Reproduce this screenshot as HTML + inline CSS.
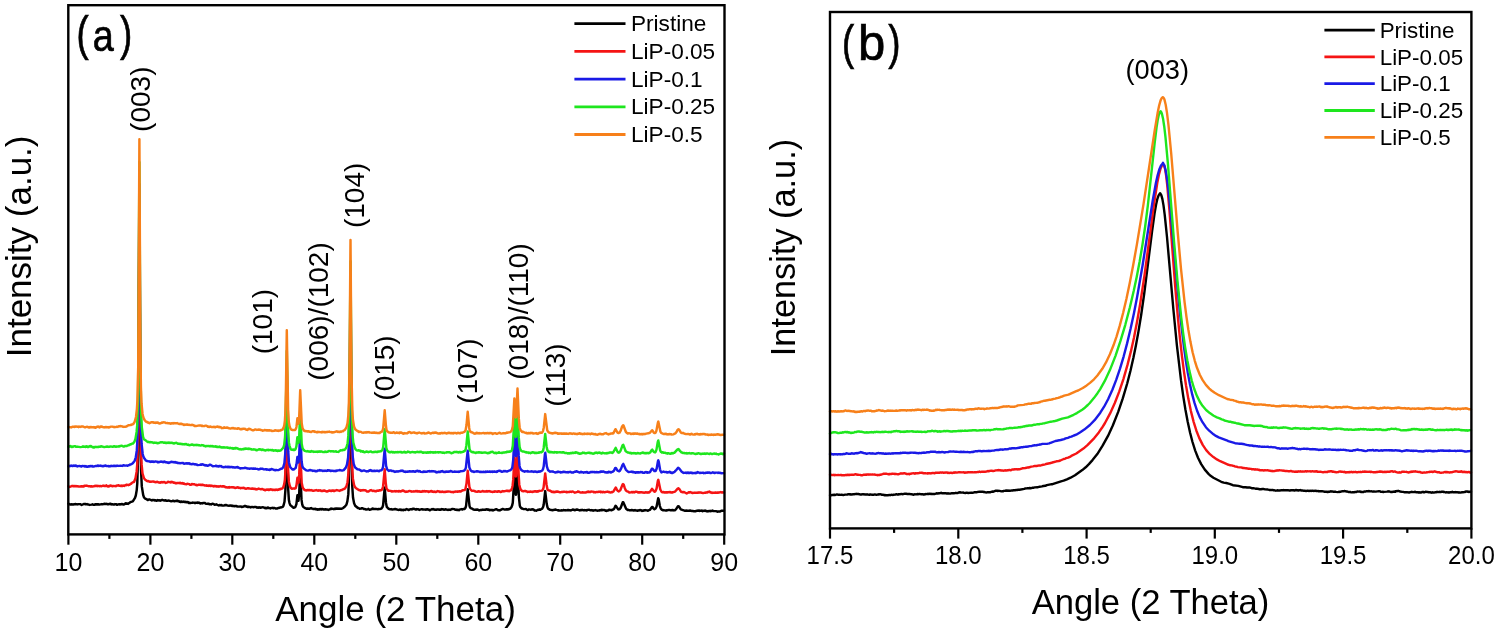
<!DOCTYPE html>
<html><head><meta charset="utf-8"><title>XRD</title>
<style>html,body{margin:0;padding:0;background:#fff;}svg{display:block;filter:blur(0.4px);}</style>
</head><body>
<svg width="1499" height="635" viewBox="0 0 1499 635">
<rect width="1499" height="635" fill="#ffffff"/>
<g fill="none" stroke-width="2.45" stroke-linejoin="round" stroke-linecap="round">
<path stroke="#000000" d="M68.4 503.7L69.9 504.5L72.0 504.3L72.6 504.5L73.0 504.3L73.2 504.5L74.6 504.3L75.1 504.0L77.7 504.4L78.4 504.1L79.6 504.1L80.5 504.3L81.6 505.0L84.1 503.9L85.0 504.2L85.3 503.9L86.3 504.3L87.0 504.1L87.7 504.5L88.6 504.5L89.5 504.9L91.8 504.6L92.4 504.3L93.3 504.8L94.2 504.6L94.7 504.8L95.4 504.3L95.5 504.6L95.8 504.3L96.7 504.5L97.0 504.2L97.3 504.5L98.1 504.2L99.5 504.6L101.5 504.1L102.8 504.2L103.9 503.9L104.5 504.1L104.8 503.8L106.4 504.1L106.9 503.8L107.3 504.2L108.4 504.3L110.3 503.8L111.1 504.0L111.4 504.4L112.1 504.2L113.6 504.5L114.6 504.5L115.0 504.1L116.0 504.2L117.1 504.8L119.1 504.2L120.0 504.6L120.4 504.3L121.4 504.2L121.7 503.9L123.4 504.5L124.4 504.3L125.7 503.3L126.4 503.8L126.8 503.4L128.1 503.9L130.3 502.2L132.8 501.4L135.0 497.9L135.8 495.5L136.7 490.3L137.3 483.1L138.1 453.7L139.4 228.5L140.3 410.8L141.0 469.7L141.8 486.4L143.2 495.0L144.0 497.3L144.8 498.4L146.9 499.3L147.7 500.1L148.7 499.5L149.8 499.5L151.7 500.4L152.1 500.0L152.8 500.2L154.1 499.9L154.8 500.4L155.0 500.2L156.8 500.7L157.8 500.0L158.7 500.5L159.5 500.3L160.4 500.7L162.2 499.8L164.4 500.6L165.5 500.2L166.0 500.7L166.9 500.6L167.1 500.8L167.9 500.8L168.5 500.4L171.2 501.3L172.3 501.1L172.8 500.7L173.1 501.0L173.7 500.8L174.1 501.2L174.8 501.3L175.5 500.9L176.1 501.0L177.1 500.6L178.4 501.3L178.8 501.1L179.4 501.8L180.0 501.6L180.5 502.0L181.0 501.6L181.3 501.9L181.5 501.5L182.4 502.0L183.2 501.6L184.0 502.0L184.8 501.7L185.8 502.2L186.2 502.0L187.1 502.3L187.8 502.0L188.9 503.0L189.4 502.7L190.2 503.1L192.5 502.6L192.8 502.8L192.9 502.6L194.4 502.6L195.0 503.2L196.0 502.7L197.2 502.9L197.7 502.4L199.0 502.9L199.6 502.8L200.4 503.5L201.4 503.2L202.4 503.4L202.8 503.0L204.6 502.9L206.0 503.8L207.1 503.9L208.0 503.6L208.8 503.8L209.3 504.2L210.8 504.2L211.1 504.5L212.3 503.7L213.4 503.9L214.7 504.8L216.3 504.3L218.7 505.5L219.6 505.0L220.6 505.3L221.4 504.9L222.1 505.5L223.8 505.6L225.0 505.0L225.7 505.3L226.4 505.0L227.7 505.6L229.1 505.7L230.3 505.4L231.3 505.8L231.7 505.6L232.1 505.9L232.7 505.7L232.8 506.0L233.7 505.9L234.2 506.2L235.8 505.9L236.2 506.2L236.5 506.0L237.3 506.6L241.0 506.5L241.7 507.0L243.7 506.5L244.2 506.0L245.0 506.3L245.2 506.0L247.7 507.0L248.5 506.7L249.3 507.1L250.2 507.0L250.6 507.4L252.0 506.9L253.7 507.2L254.7 506.9L256.0 506.9L256.9 507.7L257.7 507.4L258.1 507.7L258.3 507.4L258.9 507.5L259.2 507.2L260.1 507.8L260.4 507.5L260.9 507.7L261.4 507.4L262.8 507.3L264.2 507.6L265.2 508.2L265.6 507.7L266.6 508.3L267.7 507.5L268.3 507.9L268.7 507.8L270.3 508.4L271.0 508.0L272.3 508.1L272.8 507.8L273.5 508.2L274.0 507.9L274.7 507.9L275.6 508.5L277.2 508.5L278.1 507.9L278.7 508.0L280.5 507.4L280.6 507.6L282.8 506.8L283.4 505.9L284.5 501.8L285.4 490.1L286.8 411.4L288.1 487.8L288.9 500.1L289.5 503.1L290.3 505.1L293.5 507.8L295.0 507.3L295.5 506.7L296.4 504.2L297.4 495.3L298.1 500.1L298.3 500.7L298.4 500.8L298.5 500.6L299.2 493.2L300.2 469.1L301.5 499.4L302.2 504.3L302.7 506.0L303.6 507.1L304.6 507.9L306.3 508.7L307.4 508.5L309.7 508.8L310.4 508.3L311.2 508.1L311.7 508.6L312.7 508.6L313.2 509.0L313.8 509.1L314.2 508.8L315.2 509.2L315.6 508.8L316.7 509.4L317.4 509.2L318.0 509.7L319.2 509.1L319.7 509.5L320.4 509.0L320.6 509.3L321.1 509.1L321.6 509.4L322.1 509.0L323.8 509.5L325.6 509.3L326.7 509.6L327.0 509.4L328.3 509.9L329.2 509.5L329.6 509.6L331.1 508.5L331.7 508.9L332.6 508.8L333.8 509.2L334.2 508.8L334.9 509.0L336.1 508.5L341.8 508.7L343.3 508.0L344.0 507.1L344.7 506.8L346.4 504.8L347.4 501.1L348.3 494.4L348.8 483.2L349.5 445.6L350.5 324.7L351.5 445.2L352.2 485.5L353.0 497.5L354.1 503.3L355.2 505.7L357.9 508.0L358.5 508.0L359.6 508.7L361.0 508.6L361.8 508.2L362.0 508.4L362.6 508.3L363.8 509.1L364.4 508.9L366.1 509.5L368.0 509.3L368.3 508.9L369.6 509.7L370.8 509.6L372.1 508.7L372.4 508.9L372.9 508.6L373.4 508.9L375.7 508.9L377.9 509.3L378.8 508.9L379.8 509.1L381.3 508.6L382.4 507.3L383.1 505.2L384.7 487.6L386.0 502.9L386.8 506.9L388.5 508.8L390.2 509.2L391.3 509.1L392.3 509.6L395.2 509.0L398.2 509.9L398.8 510.0L399.5 509.6L400.4 509.9L400.9 509.6L402.0 510.2L403.0 509.8L403.5 510.2L404.5 509.8L405.3 509.9L406.5 509.1L407.7 509.4L408.2 509.9L409.0 509.9L410.5 509.2L411.6 509.4L412.0 508.9L412.6 509.2L413.3 508.7L414.0 508.7L414.5 509.1L414.9 509.1L415.4 509.4L416.4 509.4L416.8 509.1L417.9 509.2L419.4 509.9L421.7 509.2L422.5 509.3L422.8 509.6L423.3 509.4L423.7 509.6L425.2 509.5L426.1 509.7L427.2 509.2L429.0 509.7L429.7 510.3L432.1 509.0L432.5 509.4L433.4 509.1L433.6 509.4L433.8 509.3L434.6 509.7L435.0 509.5L435.4 509.8L436.1 509.6L436.6 509.8L437.3 509.4L437.9 509.6L438.1 509.4L438.9 509.4L439.3 509.8L440.4 509.5L440.8 509.8L441.9 509.1L442.8 509.4L443.1 509.2L444.0 509.8L445.9 509.3L447.4 509.9L448.3 509.7L448.8 509.9L449.1 509.6L450.2 509.9L452.4 508.9L454.3 509.1L455.2 509.7L456.5 509.6L457.0 510.0L457.9 509.8L458.9 510.2L459.5 509.7L461.5 509.1L462.5 509.2L462.6 509.5L463.1 509.0L464.4 509.1L465.5 507.8L466.1 505.7L467.7 489.3L469.5 505.9L470.0 507.4L470.7 508.1L472.0 508.6L473.4 509.6L474.9 509.8L477.2 509.5L478.0 509.7L478.8 510.3L479.5 510.4L480.6 509.9L481.5 510.0L482.5 509.6L484.8 509.8L485.3 509.6L485.6 509.8L486.6 509.2L487.1 509.2L487.6 509.8L488.5 509.4L489.3 510.3L490.7 509.9L491.0 510.2L491.5 509.9L492.8 510.0L493.1 510.4L496.2 509.2L498.4 510.3L499.5 510.4L500.1 510.1L500.2 510.3L502.7 508.9L504.7 509.6L506.6 509.2L507.5 509.5L507.9 509.2L508.1 509.5L508.6 509.0L509.0 509.3L510.2 508.6L511.4 507.2L512.1 505.6L512.8 502.6L514.4 476.0L515.6 493.0L515.9 494.7L516.1 494.4L517.5 467.1L518.9 497.2L519.8 505.7L520.2 506.9L521.8 508.6L522.1 508.4L523.2 509.0L524.4 509.1L525.9 509.0L526.7 509.6L527.9 510.0L528.9 509.4L531.0 509.7L531.9 509.2L533.6 509.5L534.6 510.6L535.9 510.5L536.3 510.7L537.9 509.7L538.6 509.9L539.9 509.3L540.3 509.8L541.1 509.1L541.6 509.1L542.3 508.6L543.2 506.7L543.7 504.6L545.2 491.1L546.7 503.8L547.6 507.7L548.5 509.1L549.2 509.3L549.3 509.5L549.6 509.4L550.0 509.8L551.6 510.1L551.9 509.9L552.3 510.2L555.8 509.5L556.2 509.9L557.7 510.1L558.5 510.6L559.3 510.4L560.2 510.6L561.2 510.3L562.4 510.5L563.4 510.0L564.2 510.3L565.5 510.2L565.7 510.4L566.8 510.3L567.1 510.0L568.0 510.3L568.4 509.9L569.1 510.3L570.4 510.2L570.9 510.5L572.7 509.5L575.1 510.2L576.4 509.5L576.9 509.8L577.5 509.6L579.7 510.4L580.6 510.0L581.3 510.2L582.2 509.8L583.6 510.3L584.2 510.0L584.7 510.3L586.0 510.1L586.7 510.5L587.7 509.9L589.2 509.7L590.2 510.3L591.4 510.1L592.7 510.5L593.0 510.3L593.4 510.7L595.3 510.1L597.8 510.7L599.1 510.3L599.4 510.5L600.4 510.1L600.9 510.3L601.2 510.0L601.4 510.2L601.9 509.9L602.1 510.2L602.5 509.9L602.9 510.1L604.3 509.9L605.5 510.7L606.0 510.5L606.7 510.9L607.4 510.5L607.8 510.6L608.0 510.2L608.5 510.3L609.1 509.8L609.5 509.7L609.8 510.0L610.9 509.9L611.4 510.3L612.5 509.7L613.0 509.7L613.5 509.2L614.0 509.0L615.5 505.8L616.2 506.3L618.0 509.1L618.5 509.4L619.5 509.3L620.7 507.7L622.8 502.3L623.3 502.2L626.1 508.8L627.7 510.0L628.3 509.8L630.0 510.4L631.7 510.0L633.9 510.5L635.0 510.1L635.7 510.5L637.2 510.5L637.5 510.8L638.2 510.4L638.7 510.6L639.9 510.0L640.4 510.3L640.8 510.1L641.8 510.6L642.0 511.0L642.9 510.4L643.2 510.7L643.5 510.5L644.0 510.6L644.4 510.2L644.8 510.3L645.4 510.1L647.2 510.4L647.8 510.8L648.2 510.4L650.0 509.8L652.0 506.9L652.7 507.2L653.5 508.6L654.4 509.2L655.6 508.5L656.6 506.5L658.2 498.3L658.6 499.0L659.8 505.8L660.7 508.4L661.6 509.6L661.7 509.5L662.9 510.3L663.7 510.1L665.9 510.6L666.2 510.3L667.0 510.5L668.0 510.0L669.2 510.1L669.4 509.9L670.7 510.3L671.2 510.1L671.8 510.3L672.6 510.0L673.7 510.4L674.8 510.3L676.1 509.1L678.0 506.2L678.9 506.5L680.8 509.4L684.5 510.7L687.0 510.5L687.2 510.7L689.4 510.7L690.0 510.5L692.2 511.1L692.6 510.9L694.0 511.3L695.6 511.2L695.8 510.9L697.1 510.7L697.6 510.8L698.0 510.4L699.5 510.9L700.0 510.6L701.2 510.8L701.7 510.5L702.6 511.2L703.5 510.8L704.5 510.9L705.1 510.4L705.9 511.0L707.0 511.0L707.3 511.4L708.5 511.1L708.9 511.3L709.6 510.9L710.0 511.1L710.8 510.9L711.0 511.2L712.5 510.6L713.3 511.1L715.9 511.1L717.4 511.7L717.8 511.4L720.3 511.4L721.7 510.7L724.0 510.8"/>
<path stroke="#f51414" d="M68.4 486.2L69.8 487.0L72.1 485.9L72.9 486.2L73.4 486.0L73.9 486.3L75.0 486.0L75.9 486.3L76.3 486.1L77.1 486.4L77.7 486.2L78.8 486.6L81.5 486.2L82.3 486.5L83.6 486.1L84.0 486.4L84.7 485.8L86.7 485.6L88.9 486.3L90.3 486.2L90.7 486.6L91.4 486.2L92.3 486.6L95.0 486.0L95.1 485.7L95.5 486.1L96.9 485.8L97.7 486.2L98.4 485.9L99.4 486.2L100.5 485.9L101.1 486.3L103.1 485.6L103.9 486.0L104.5 485.8L104.9 486.1L105.5 486.0L106.2 485.8L106.4 485.4L107.9 486.4L108.3 486.1L108.8 486.4L109.5 486.2L110.1 485.4L112.1 486.0L112.3 486.3L113.5 485.9L114.6 486.1L115.4 485.9L115.9 486.2L116.4 486.0L117.0 485.4L117.8 485.5L118.3 485.2L119.5 485.8L120.2 485.7L120.8 486.1L121.5 485.7L121.7 485.9L122.1 485.7L122.5 486.0L123.2 485.6L124.1 485.9L125.2 485.2L125.5 485.3L126.0 484.9L126.2 485.2L126.7 484.7L128.3 485.2L129.5 484.6L129.7 484.7L130.6 483.8L131.3 483.7L131.7 483.0L133.7 481.9L134.0 482.0L135.5 478.2L136.6 471.9L137.3 463.6L138.1 434.3L139.4 206.9L140.3 391.3L141.0 450.7L141.6 464.4L142.5 473.4L144.0 478.3L145.2 479.8L147.3 481.1L148.0 481.3L148.4 481.1L149.5 481.7L150.5 481.6L150.9 481.8L153.5 481.4L153.8 481.8L156.0 482.2L156.9 481.7L159.1 482.6L160.0 482.4L160.2 482.7L161.3 482.1L161.9 482.4L162.3 482.1L163.7 482.2L164.3 481.9L165.8 482.9L167.5 482.3L167.9 481.8L170.4 482.4L171.2 481.8L171.9 482.2L172.7 482.0L173.7 482.7L174.4 482.6L175.4 483.3L175.9 483.0L176.9 483.3L177.6 482.9L179.6 482.9L180.0 483.2L180.3 482.8L181.6 483.4L182.4 483.1L183.2 483.7L183.5 483.5L184.1 483.5L184.8 484.1L186.6 484.2L187.2 483.8L188.1 483.9L189.1 484.1L190.0 484.7L190.7 484.7L191.0 484.5L191.1 484.7L191.9 484.1L192.1 484.3L192.3 484.1L192.8 484.3L194.1 484.2L195.7 485.0L196.2 484.7L196.9 485.3L198.2 484.8L200.1 484.7L201.0 485.1L201.7 484.7L202.3 485.0L203.0 484.8L205.0 485.5L205.7 485.6L206.3 485.3L206.5 485.7L207.6 485.7L207.8 485.4L208.7 485.9L209.8 485.5L210.1 485.9L210.8 485.9L211.1 485.5L212.3 486.1L212.6 485.9L213.6 486.4L214.0 485.9L214.9 486.0L215.2 486.3L215.8 486.1L216.4 486.5L216.9 486.2L217.4 486.5L217.9 486.3L218.3 486.7L218.9 486.5L219.3 486.6L220.5 486.1L222.0 486.6L222.4 486.2L222.9 486.5L223.1 486.2L224.6 486.5L225.5 487.3L226.8 487.3L227.3 487.6L228.8 487.3L229.2 487.6L229.6 487.1L230.5 487.4L231.7 487.2L232.1 487.4L232.6 487.2L233.2 487.5L233.7 487.3L234.2 487.4L235.1 488.0L238.0 487.3L238.6 487.9L239.4 487.8L240.3 488.3L240.5 487.9L242.0 487.9L242.4 488.1L243.8 487.8L244.4 488.2L246.1 488.7L246.9 488.6L247.4 488.2L248.3 488.4L248.5 488.2L250.0 488.6L250.7 488.6L251.0 488.8L252.4 488.5L253.7 488.9L254.3 488.7L254.9 489.1L255.1 488.8L255.4 489.2L256.0 489.1L256.8 489.4L258.7 488.6L261.0 489.3L262.4 488.9L263.7 489.8L264.2 489.7L265.3 490.3L266.4 489.6L266.9 489.5L267.2 489.8L267.7 489.5L268.9 490.0L269.6 489.4L270.1 489.7L270.5 489.3L271.5 489.4L272.1 490.0L272.6 489.7L272.9 489.9L273.5 489.7L274.0 490.0L275.1 489.7L275.7 489.9L276.4 489.6L277.5 490.0L278.2 489.5L278.7 489.7L279.9 488.9L280.6 489.2L281.2 488.8L282.3 488.6L283.4 486.9L284.2 484.1L284.9 479.6L285.3 473.4L285.8 456.4L286.8 392.6L288.2 471.6L288.9 481.9L289.7 485.5L290.6 487.7L291.9 488.8L293.7 488.4L294.7 488.7L295.7 488.2L296.5 485.1L297.4 477.8L298.2 482.5L298.3 482.9L298.6 482.5L299.2 474.9L300.2 450.5L301.7 482.7L302.7 487.4L303.6 489.0L304.7 490.0L306.4 490.5L307.1 490.1L307.6 490.2L307.8 489.9L308.6 490.3L309.2 490.0L310.2 490.3L311.0 490.1L311.2 490.4L311.9 490.2L312.8 490.8L313.5 490.8L316.3 490.1L317.8 490.7L318.4 490.7L318.7 490.3L319.6 490.6L320.2 490.3L321.5 491.1L322.0 490.8L322.6 491.0L322.8 490.7L324.2 490.5L327.0 491.6L327.4 491.2L327.9 491.3L329.0 490.6L329.7 490.5L330.6 490.9L330.9 490.7L331.5 490.9L332.2 490.4L333.3 490.9L333.9 490.6L334.5 491.0L335.3 490.4L336.5 490.3L336.9 490.1L339.7 490.9L340.6 490.2L341.8 490.0L342.6 489.4L343.7 489.3L343.8 489.0L344.9 488.6L346.6 485.8L347.5 482.2L348.3 474.7L348.8 464.4L349.5 426.2L350.5 305.0L351.5 427.0L352.3 469.2L352.9 478.7L354.1 485.1L354.9 486.9L355.8 488.0L358.0 489.5L358.4 489.5L358.8 490.0L359.9 490.3L360.1 490.1L360.8 490.7L361.4 490.3L362.7 490.4L363.2 490.0L363.5 490.3L364.8 490.2L365.8 490.5L367.0 491.4L368.5 491.4L370.3 490.2L371.1 490.1L371.5 490.5L372.4 490.6L372.8 490.9L374.0 490.7L374.2 491.0L374.4 490.9L375.3 491.3L375.7 491.1L376.2 491.2L376.7 490.8L376.8 491.0L377.7 490.6L378.5 490.8L378.8 490.5L378.9 490.7L379.9 490.2L380.5 490.4L381.7 489.8L382.6 488.3L383.1 486.2L384.7 469.3L385.8 483.5L386.5 488.5L388.3 490.8L388.9 490.6L390.7 490.9L392.0 491.6L392.5 491.3L393.6 491.4L394.6 491.1L395.4 491.4L396.1 491.0L397.0 491.4L398.2 491.1L398.3 491.4L398.9 491.4L399.4 491.1L400.2 491.5L401.2 491.1L401.7 491.2L402.2 490.6L402.6 490.5L402.9 490.7L403.3 490.5L403.7 491.0L404.3 491.0L404.6 491.5L405.2 491.4L405.8 491.9L406.3 491.5L406.7 491.8L407.9 491.6L408.4 491.2L409.6 490.9L410.6 491.1L411.2 491.6L411.5 491.3L412.4 491.6L413.4 491.3L414.0 491.6L415.5 491.1L415.8 491.4L416.3 491.0L417.0 491.4L417.4 491.1L417.8 491.5L418.3 491.3L418.8 491.6L419.3 491.3L420.0 491.7L420.2 491.5L420.7 491.8L421.2 491.4L421.9 491.8L422.9 491.0L423.7 491.5L424.4 491.1L424.7 491.3L425.1 491.2L425.3 491.6L426.3 491.2L427.3 491.5L427.9 491.3L428.8 492.0L430.1 491.3L430.5 491.5L431.1 490.9L431.5 491.1L432.0 491.7L432.8 491.5L433.7 491.9L434.5 491.5L435.2 492.0L435.7 492.0L437.8 491.1L439.2 491.7L439.5 491.5L440.1 492.1L440.8 491.6L441.6 491.6L442.0 491.9L442.6 491.6L443.8 492.1L444.7 491.8L445.1 492.0L446.1 491.6L446.7 491.8L447.9 491.4L450.2 491.6L451.4 492.1L452.4 491.9L453.4 492.3L453.9 491.8L455.0 491.9L455.6 491.4L457.2 491.7L457.8 491.4L458.1 491.7L458.4 491.4L458.9 491.6L459.4 491.2L460.2 491.6L460.7 491.3L461.1 491.4L462.5 490.3L462.8 490.5L463.7 490.1L464.7 490.1L465.5 488.8L466.5 483.6L467.7 470.8L469.4 486.9L470.3 489.4L472.0 490.9L473.7 490.7L474.3 491.1L474.7 490.9L475.4 491.6L477.1 491.7L478.6 491.3L480.3 491.7L481.4 491.6L482.9 491.0L483.7 491.5L483.9 491.4L484.6 491.6L485.1 491.4L485.7 491.6L486.1 491.2L486.6 491.4L486.9 491.1L487.6 491.5L489.0 491.1L489.3 491.4L490.0 491.2L491.0 491.8L492.0 491.7L492.5 492.0L493.8 491.6L494.4 491.8L495.0 491.3L495.5 491.6L496.5 491.5L497.1 491.8L498.3 491.2L498.9 491.5L499.3 491.3L500.7 492.1L501.3 491.6L501.6 491.8L502.8 491.1L503.8 491.4L504.3 491.1L505.6 491.1L506.5 490.7L507.2 490.8L507.5 491.1L507.9 490.8L509.3 491.2L510.0 490.5L510.7 490.5L511.3 489.8L512.0 488.1L512.6 485.7L513.2 479.9L514.4 457.5L515.5 474.0L515.7 476.0L515.9 476.4L516.1 476.0L517.5 448.3L518.8 477.1L519.3 484.7L520.2 488.4L520.9 489.8L522.2 491.0L523.5 491.3L524.9 490.9L525.5 491.2L525.9 491.1L526.8 491.4L527.6 492.0L528.6 491.7L529.4 491.9L530.2 491.5L531.2 491.9L532.1 491.7L532.4 492.0L534.1 491.3L534.6 491.5L534.8 491.2L535.5 491.2L535.7 491.5L536.1 491.3L536.8 491.7L537.1 491.3L538.0 491.5L538.2 491.2L538.6 491.3L539.3 490.8L539.6 490.9L542.1 490.6L543.0 489.3L543.6 487.3L545.2 473.4L546.6 485.0L547.5 489.4L548.0 490.2L549.6 490.7L549.9 490.6L552.4 492.1L553.5 491.8L554.0 492.2L555.7 491.8L556.0 492.0L556.4 491.6L556.9 491.8L557.5 491.5L560.2 492.3L561.6 492.1L561.9 491.8L562.8 492.1L563.4 491.6L564.2 491.6L566.2 492.2L566.5 491.9L566.9 492.3L568.0 491.9L569.1 492.1L570.1 491.6L571.3 491.9L571.8 491.6L572.8 491.5L574.9 492.7L577.6 491.9L578.0 491.4L578.4 491.8L579.0 491.7L579.4 492.1L580.7 492.5L581.4 492.6L582.5 492.2L584.2 492.6L584.5 492.4L585.9 492.4L586.6 491.9L587.0 492.1L588.4 491.5L588.9 492.1L589.7 491.8L590.5 492.0L591.3 491.4L591.5 491.6L593.0 491.6L593.8 492.3L594.0 492.0L595.5 492.4L596.1 491.9L598.0 492.0L598.4 491.7L599.6 491.8L600.1 491.6L600.8 492.2L601.6 491.8L602.6 492.3L603.3 491.8L604.5 492.3L607.5 491.6L608.9 492.2L609.4 492.0L609.6 492.3L610.9 492.5L611.6 492.1L611.9 492.3L612.5 492.1L613.6 491.2L615.7 487.5L616.2 488.2L616.8 489.7L617.9 491.0L618.7 491.4L619.4 491.0L620.5 489.8L622.6 484.4L623.0 484.0L623.7 484.7L624.8 488.2L626.0 490.6L627.0 491.3L628.3 491.7L629.3 492.5L631.3 492.4L631.8 491.9L632.8 492.4L633.2 492.0L634.4 492.4L635.3 491.7L635.7 491.9L636.9 491.7L638.1 492.5L638.9 492.3L639.8 492.6L640.0 492.3L641.2 492.2L644.5 492.7L645.4 492.3L646.6 492.5L647.0 492.3L647.9 492.7L649.1 492.2L649.3 492.4L650.1 491.7L652.0 488.8L653.7 491.1L654.7 491.7L655.4 491.2L656.6 488.5L657.9 480.7L658.3 479.8L660.3 489.5L661.5 491.8L662.6 492.3L663.6 492.0L664.3 492.5L664.9 492.3L666.1 492.5L666.5 492.2L667.2 492.5L668.2 492.2L670.2 492.0L671.2 492.6L672.3 492.2L672.7 492.4L674.9 491.7L677.7 488.6L678.0 488.5L678.4 488.7L678.6 488.4L679.4 489.2L681.1 491.8L682.8 492.2L684.0 492.0L686.7 493.5L688.8 492.3L689.0 492.4L689.2 492.2L689.6 492.4L690.2 492.1L692.6 493.0L694.5 492.6L697.6 492.8L698.3 492.4L698.9 492.4L699.1 492.7L699.7 492.5L700.7 492.5L703.1 493.1L705.0 492.6L705.3 492.8L706.2 492.5L707.0 492.6L708.1 491.9L708.6 492.0L709.3 491.6L710.5 492.5L710.9 492.3L712.1 492.9L712.3 492.6L713.0 492.6L713.4 492.8L714.5 492.6L715.1 492.7L715.6 492.5L716.4 492.7L717.6 492.5L718.0 492.8L718.3 492.4L719.5 492.5L720.3 492.1L721.8 492.5L722.0 492.2L723.0 492.6L724.0 492.4"/>
<path stroke="#1a1ae6" d="M68.4 466.4L69.1 466.3L70.0 465.7L70.4 466.0L71.4 465.6L72.5 466.0L73.5 465.6L74.1 465.9L75.0 465.5L76.3 466.0L76.5 465.8L77.4 466.4L79.3 465.9L81.4 466.5L81.6 466.2L82.7 465.9L84.4 466.4L84.5 466.1L85.2 466.4L85.9 466.1L86.5 466.7L86.8 466.4L87.6 466.8L89.0 466.2L89.3 466.4L90.0 466.0L91.2 466.3L91.8 465.9L92.6 466.4L94.2 466.4L95.9 465.9L96.9 466.0L97.6 465.5L98.3 465.9L98.8 465.6L100.0 465.9L100.8 465.5L101.3 466.0L102.4 466.0L102.8 466.3L103.8 466.0L104.0 465.7L104.9 465.9L105.3 465.5L106.8 466.1L108.5 466.0L109.1 466.4L110.4 466.0L110.7 466.2L111.6 465.8L112.1 466.1L113.4 465.9L113.6 466.1L114.2 465.7L115.9 466.1L116.0 465.8L116.2 466.0L117.1 465.6L118.8 465.9L120.5 465.7L122.2 465.9L122.5 465.6L123.6 465.3L125.2 465.6L127.0 465.4L127.6 465.8L128.8 465.1L129.6 465.1L130.0 464.4L131.3 464.2L132.8 463.2L134.7 460.7L135.8 457.3L136.8 450.4L137.3 442.2L138.2 407.5L139.4 184.1L140.3 370.0L141.0 430.0L141.6 444.0L142.7 454.0L143.2 456.1L144.1 458.0L145.9 460.4L146.8 461.0L148.9 461.4L149.2 461.3L150.4 461.9L151.5 461.5L152.3 461.8L153.2 461.5L153.7 461.9L154.1 461.9L155.5 461.4L156.7 461.6L157.6 462.2L157.8 462.0L158.5 462.2L158.7 462.0L159.1 462.2L160.5 461.6L161.4 461.8L161.8 461.6L163.0 462.2L163.3 461.8L164.2 461.9L164.6 461.6L165.9 462.3L166.4 462.2L168.1 462.7L168.2 462.5L168.9 462.9L171.1 461.8L173.7 462.3L174.1 462.0L175.0 462.5L175.5 462.1L176.6 462.7L177.4 462.6L178.0 463.2L178.7 462.9L180.0 463.2L182.7 462.9L184.1 463.8L185.5 463.4L185.7 463.6L186.1 463.3L187.0 463.5L187.5 463.3L187.9 463.6L188.2 463.2L188.6 463.5L189.1 463.3L190.0 463.9L190.2 463.8L190.6 464.1L191.9 464.2L192.4 463.9L192.8 464.1L193.4 463.9L194.5 464.4L195.1 464.2L196.0 464.6L196.4 464.4L197.6 465.1L199.9 464.9L200.5 464.5L201.4 464.7L202.0 464.3L203.8 464.7L204.5 465.2L205.1 465.1L205.5 465.5L206.9 465.3L207.2 465.7L208.6 465.5L209.6 464.8L210.5 464.7L212.8 466.2L215.7 465.9L216.0 465.6L216.8 466.3L217.5 466.1L218.5 466.6L219.2 465.9L220.6 466.3L221.0 466.1L222.2 467.0L223.1 466.9L223.7 467.3L225.6 466.7L227.4 467.1L227.8 466.8L228.1 467.2L228.6 466.8L229.4 467.2L229.9 466.9L231.0 467.2L231.7 466.9L232.8 467.4L233.5 467.2L234.2 467.5L235.6 467.5L236.0 467.2L236.2 467.4L237.0 467.1L237.3 467.4L237.7 467.1L238.5 467.7L240.6 468.5L241.2 468.2L244.4 468.0L244.8 467.7L246.0 467.9L246.4 468.3L247.0 468.2L247.3 468.5L247.8 468.4L249.6 468.8L250.0 468.5L251.3 468.6L251.5 468.4L252.4 468.7L253.3 468.5L254.7 468.8L255.0 468.5L255.7 468.8L257.2 468.9L258.4 469.5L259.3 469.1L259.8 469.2L260.9 468.6L262.3 468.7L263.3 469.2L264.9 469.4L265.4 469.2L266.6 469.7L267.0 469.3L267.9 469.7L269.0 469.6L269.4 470.0L271.9 469.0L273.9 469.9L275.1 469.9L275.3 470.2L276.4 469.9L276.9 470.1L278.7 470.0L280.9 468.8L282.2 468.5L283.3 467.0L284.4 463.1L285.3 453.0L285.9 431.5L286.8 371.1L288.2 451.2L288.9 462.2L289.6 465.3L290.4 467.3L292.4 469.5L292.8 469.3L293.7 469.5L295.7 467.9L296.5 464.3L297.4 457.0L298.2 462.0L298.3 462.5L298.6 462.1L299.2 454.5L300.2 429.7L301.6 461.3L302.4 466.4L303.2 467.8L304.1 468.7L306.5 470.4L307.3 470.6L308.7 470.5L309.7 470.0L310.1 470.3L310.6 470.0L312.2 470.7L312.7 470.6L313.1 470.9L314.6 470.7L315.3 471.2L316.0 471.0L316.2 471.3L317.1 471.1L317.6 470.5L319.2 470.5L319.7 470.1L321.0 470.6L321.5 470.4L323.0 471.0L323.5 470.7L324.7 470.9L325.2 470.6L326.5 470.9L327.2 470.4L327.5 470.7L328.0 470.3L328.4 470.6L329.3 470.3L329.7 470.7L330.3 470.7L330.6 470.9L331.0 470.6L331.8 470.9L333.0 470.7L333.4 471.0L334.7 471.0L335.1 471.2L336.2 470.6L336.6 470.9L337.9 470.4L339.3 470.3L339.5 470.0L342.1 470.6L343.7 470.1L345.8 467.6L347.0 464.5L348.1 457.6L348.8 446.7L349.5 405.9L350.5 282.8L351.5 406.1L352.2 446.7L352.8 457.1L353.7 463.8L354.9 467.2L357.4 469.2L359.2 469.5L361.7 471.1L364.0 470.4L366.5 471.5L367.1 471.2L368.1 471.4L369.2 470.5L369.7 470.7L370.8 470.1L371.6 470.9L371.8 470.7L373.3 471.1L373.9 470.7L374.2 471.0L374.9 470.8L375.3 471.0L376.8 470.7L377.8 470.7L378.2 471.1L379.0 471.2L380.0 470.5L381.3 470.4L382.4 469.2L383.1 466.7L384.7 448.8L386.1 465.8L387.2 469.5L388.8 470.9L389.9 470.5L391.3 470.5L391.6 470.9L393.2 470.9L393.8 471.5L394.1 471.4L395.0 471.9L396.3 471.5L396.6 471.6L397.3 471.3L398.3 471.6L398.9 471.2L400.2 471.1L400.6 470.7L401.2 470.9L402.0 470.6L402.5 471.0L402.9 470.7L404.3 471.8L405.2 471.7L405.5 472.0L406.1 471.6L407.0 471.8L407.9 471.5L408.2 471.7L409.2 471.3L411.4 471.5L413.1 471.2L415.2 471.8L416.3 471.0L416.7 470.9L417.0 471.2L417.7 470.8L418.8 471.5L419.4 471.1L420.1 471.3L420.7 471.9L422.9 472.1L423.2 471.6L423.4 471.8L423.9 471.5L425.0 471.9L425.9 471.6L427.1 471.7L428.3 471.2L429.4 471.4L429.8 471.1L430.7 471.5L431.9 471.1L432.2 471.4L433.0 471.2L433.9 471.2L434.3 471.5L435.2 471.4L436.2 472.4L436.8 472.1L437.4 472.3L437.9 472.0L438.7 471.8L438.8 472.1L439.4 471.8L440.0 472.1L440.7 471.5L441.7 471.3L442.0 471.4L442.3 471.1L444.2 472.1L445.2 471.7L445.6 471.9L446.5 471.5L448.1 471.7L448.4 471.5L448.8 471.7L449.2 471.4L449.9 471.5L450.5 471.0L452.9 471.9L454.0 471.8L454.5 471.4L455.6 471.7L458.2 471.6L458.8 471.9L459.1 471.6L459.8 471.7L460.2 471.3L462.7 471.1L464.3 470.5L465.1 469.7L465.9 467.6L467.7 450.7L469.4 467.6L470.7 470.6L472.1 471.6L473.0 471.4L474.0 472.0L474.7 471.6L476.1 471.6L476.5 471.2L477.0 471.2L478.2 471.5L478.6 471.4L478.9 471.7L480.0 472.1L480.7 471.7L483.0 472.1L483.3 471.7L484.1 472.0L485.1 472.0L485.5 471.6L485.7 472.0L487.6 471.5L487.9 471.7L489.1 471.7L489.7 471.5L490.7 471.9L491.6 471.6L492.4 471.9L492.9 471.6L493.5 471.8L494.1 471.5L494.3 471.8L494.7 471.5L495.3 471.8L496.0 471.6L496.2 471.9L496.8 471.5L497.1 471.8L497.8 471.2L499.3 470.7L500.6 471.0L500.7 471.4L501.6 471.5L501.8 471.8L503.0 471.5L503.5 471.0L503.9 471.3L505.3 471.0L506.1 471.4L506.8 471.5L507.1 471.2L507.4 471.4L509.3 470.5L510.2 470.4L511.1 469.6L512.0 468.3L512.4 466.9L513.2 460.1L514.4 437.4L515.6 454.6L516.0 456.1L516.5 450.8L517.5 427.7L518.7 455.4L519.5 465.7L520.1 468.0L521.1 469.7L522.5 470.9L523.1 470.9L523.3 471.2L524.5 471.7L525.2 471.3L525.9 471.4L527.3 471.1L527.7 471.4L528.2 471.3L528.9 471.6L530.7 471.6L531.3 471.2L531.6 471.5L532.4 471.5L533.8 471.9L534.5 471.5L535.2 471.5L537.1 472.0L538.2 471.6L538.8 471.8L539.6 471.4L540.1 471.6L542.3 470.5L543.0 469.2L543.7 466.3L544.9 454.3L545.3 452.8L546.8 466.2L548.0 470.0L549.9 471.7L551.2 471.4L552.1 471.6L552.6 471.4L553.4 471.9L554.5 472.1L555.2 472.6L556.6 472.1L557.0 472.3L558.1 471.5L558.6 472.0L559.8 472.0L560.6 472.5L560.7 472.1L561.9 472.3L563.7 471.8L566.2 472.3L567.2 472.1L568.0 472.5L568.9 471.9L570.2 472.0L570.4 471.8L571.5 472.5L572.3 472.6L573.0 472.2L573.4 472.5L575.1 471.5L575.4 471.8L576.7 471.2L577.5 471.8L578.9 472.1L579.2 472.5L580.4 472.2L580.7 471.9L581.0 472.1L581.2 471.9L581.4 472.2L581.5 472.1L582.1 472.3L582.9 472.2L583.7 472.7L585.1 472.2L585.8 472.4L586.2 472.1L586.7 472.0L587.4 472.2L588.0 472.7L588.8 472.8L590.9 472.0L591.6 471.9L592.1 472.2L593.0 471.9L594.0 472.2L594.4 472.0L595.3 472.3L597.1 472.0L597.7 472.3L598.7 472.3L600.4 471.6L600.8 471.9L601.3 471.5L602.1 471.8L603.2 471.4L605.1 472.3L605.9 472.3L606.2 472.6L607.6 472.2L608.2 472.4L608.6 471.8L610.3 472.3L610.7 472.1L611.0 472.5L611.4 472.1L612.6 471.8L613.9 470.8L615.3 467.9L616.0 468.2L617.5 470.7L619.2 471.3L619.8 470.8L621.2 468.4L622.5 464.9L623.3 463.9L625.8 469.6L627.7 471.5L628.6 472.1L631.5 471.6L631.9 472.0L632.4 471.8L632.9 472.1L633.1 471.8L633.5 472.2L634.7 472.3L635.7 472.8L635.9 472.3L637.1 472.5L637.4 472.2L637.6 472.4L638.1 472.2L639.4 472.5L640.4 472.0L641.5 472.3L642.0 472.1L642.9 472.7L644.4 472.7L645.3 472.1L646.1 472.4L646.5 472.1L647.2 472.2L647.8 472.7L648.5 472.4L648.9 472.6L650.0 472.1L651.8 468.8L652.6 468.8L654.3 470.9L654.4 470.7L655.6 471.1L656.7 468.5L658.0 461.0L658.3 460.4L658.7 461.4L660.0 469.3L660.5 470.9L661.4 472.4L663.5 471.6L664.9 472.1L666.0 472.0L666.6 472.0L667.0 472.5L667.4 472.2L667.9 472.5L668.9 472.0L669.1 472.3L669.4 471.8L670.2 472.0L670.8 472.8L671.3 472.9L671.6 472.6L672.1 473.1L672.5 472.8L672.6 473.0L673.5 472.2L673.9 472.2L674.9 471.5L675.4 470.7L675.9 470.6L678.1 467.8L679.2 468.6L681.7 471.8L683.5 472.9L685.7 472.6L686.3 473.0L686.7 472.8L687.1 473.0L687.7 472.6L688.4 473.0L688.9 472.6L689.9 473.0L690.8 472.5L691.4 472.9L692.2 472.7L692.6 473.2L694.3 472.9L695.1 473.2L695.8 472.8L696.8 473.0L697.6 472.1L698.3 472.6L699.4 472.6L699.9 473.1L700.6 472.7L701.7 472.9L702.7 472.7L703.7 473.2L704.0 472.9L705.3 473.1L706.2 472.6L707.1 472.8L707.8 472.5L708.1 472.7L709.3 472.4L710.2 473.1L710.5 472.9L711.3 473.0L712.8 472.3L714.6 473.0L715.6 472.6L717.7 472.6L718.1 472.9L718.9 472.5L720.2 473.1L720.5 472.8L721.3 473.3L724.0 473.1"/>
<path stroke="#1ee61e" d="M68.4 446.7L68.8 446.7L69.1 446.2L69.7 446.6L70.4 446.1L71.6 446.9L72.3 446.6L72.9 447.0L73.5 446.4L74.2 446.3L75.4 446.3L75.9 446.7L77.3 446.6L80.4 447.1L82.1 446.9L83.1 446.3L83.5 446.7L84.6 446.6L85.4 447.0L86.4 446.2L87.5 447.0L87.8 446.6L88.4 447.0L90.0 446.1L90.4 446.4L90.9 446.1L92.6 447.3L93.2 447.4L93.7 447.1L94.2 447.4L95.2 446.8L96.2 447.1L96.7 446.9L97.6 447.1L98.2 446.8L98.5 447.0L99.0 446.7L99.8 446.8L100.1 446.6L100.3 446.8L101.1 446.3L104.3 447.1L107.1 446.5L108.9 446.9L109.6 446.7L110.0 446.4L112.7 446.8L114.1 446.2L116.0 446.7L116.8 446.5L117.8 446.6L118.6 446.3L119.5 446.5L119.9 446.1L120.2 446.2L121.5 445.7L123.1 446.4L124.3 446.4L125.2 445.9L127.1 445.9L127.6 445.5L128.5 445.4L129.1 444.8L129.6 444.9L130.5 444.3L131.4 444.2L131.9 443.6L132.9 443.6L134.4 441.8L135.5 438.6L136.6 431.9L137.2 425.4L138.1 394.1L139.4 162.1L140.3 349.7L141.1 413.2L141.8 427.1L143.0 436.6L143.7 438.7L144.5 439.7L145.4 440.1L147.8 442.1L148.4 441.8L149.6 442.3L150.3 442.0L150.7 442.2L152.2 442.3L153.6 443.0L154.2 442.6L154.6 442.8L156.0 442.7L157.8 443.2L158.2 442.9L159.1 442.9L161.0 442.2L161.5 442.4L162.8 442.3L163.5 442.7L165.1 442.5L165.8 443.0L166.3 442.7L166.4 442.9L166.8 442.7L167.2 442.9L168.2 442.6L168.5 442.9L169.5 442.6L170.0 443.0L170.5 442.7L171.1 442.9L171.7 442.8L174.1 443.5L175.0 442.9L176.0 443.1L176.3 442.8L177.9 443.8L178.6 443.6L179.5 443.9L180.1 443.7L181.0 444.1L181.4 444.0L182.5 444.3L182.9 444.1L184.1 444.4L184.9 444.0L185.1 444.2L186.2 444.0L187.3 444.7L188.2 444.6L189.0 445.1L189.9 445.2L192.0 444.5L193.7 445.2L194.1 444.9L194.4 445.1L195.2 444.9L195.9 445.0L196.2 444.8L197.0 445.2L197.8 444.9L198.8 445.3L199.8 445.2L200.3 445.6L201.8 445.4L201.9 445.1L203.1 445.2L204.5 446.1L205.2 446.0L205.7 446.4L206.9 445.9L207.8 446.1L208.7 445.9L209.6 446.3L210.5 446.0L212.3 446.3L212.6 446.1L213.4 446.6L214.6 446.4L215.2 446.7L215.9 446.3L216.9 446.9L217.3 446.7L218.0 447.0L219.0 447.0L219.4 446.6L220.4 447.2L220.8 447.0L221.9 447.6L222.7 447.3L223.3 447.6L223.7 447.2L226.2 447.6L227.0 447.3L227.4 447.8L228.7 447.8L229.5 448.2L230.4 447.8L231.2 448.2L232.3 448.1L233.1 448.7L233.7 448.2L234.1 448.5L235.0 448.0L235.3 448.4L235.5 448.0L236.5 447.9L236.8 448.3L238.3 448.7L239.2 449.3L240.1 449.1L241.0 449.5L242.4 449.1L243.2 449.3L244.3 448.7L244.9 448.9L245.5 448.5L246.8 448.8L247.5 448.7L248.3 449.1L249.0 448.6L250.0 449.0L250.7 448.9L251.5 449.6L251.8 449.4L253.4 449.6L253.8 449.3L254.2 449.6L254.6 449.4L255.3 449.8L255.9 449.7L256.3 450.2L256.5 450.0L257.1 450.3L258.9 449.3L259.6 449.3L259.6 449.6L260.9 449.5L261.5 450.0L261.8 450.0L262.1 449.5L262.4 449.7L262.8 449.5L263.3 449.9L264.2 449.9L264.6 450.4L265.3 450.5L267.0 449.9L267.8 450.1L268.3 449.8L268.5 450.2L268.8 449.9L270.6 450.1L271.0 449.9L271.6 450.3L272.4 450.0L273.0 450.2L273.3 450.7L273.7 450.4L274.7 450.6L275.2 450.3L276.7 450.7L277.3 450.4L277.7 450.9L278.3 450.5L279.6 450.8L280.1 450.4L280.8 450.5L283.2 447.8L284.2 445.0L285.1 436.7L285.8 416.0L286.8 350.9L288.2 431.8L288.9 442.7L289.6 446.1L290.6 449.0L291.2 449.6L292.1 449.8L292.8 449.6L293.3 449.9L293.7 449.6L294.4 450.0L295.1 449.6L295.6 449.0L296.4 446.4L297.4 437.2L298.2 442.5L298.3 443.0L298.6 442.7L299.2 436.9L300.2 410.6L301.7 443.8L302.5 448.0L303.4 449.6L304.7 450.9L306.4 451.4L307.8 451.1L308.3 451.6L309.7 451.4L310.1 451.8L311.4 451.1L311.9 451.4L313.2 451.4L313.6 451.9L314.3 451.7L316.7 451.8L316.9 451.6L317.2 451.9L317.8 451.5L318.5 451.8L318.8 451.5L319.4 451.7L319.7 451.4L320.5 451.7L320.7 451.4L321.7 451.5L322.7 452.0L324.5 452.1L325.2 451.5L326.0 452.0L327.4 451.6L327.7 451.8L328.9 451.0L330.2 451.1L330.9 451.5L331.5 451.2L332.8 451.4L333.0 451.2L334.7 451.6L336.0 451.3L336.6 451.7L338.3 451.9L340.6 450.3L341.8 450.4L342.5 449.9L343.1 450.1L343.7 449.8L344.1 450.0L345.1 449.4L346.5 447.3L347.6 443.2L348.3 435.9L348.9 422.5L349.5 385.9L350.5 261.2L351.5 385.7L352.1 424.7L352.7 436.5L353.3 442.5L354.6 447.4L355.5 449.1L356.5 450.2L357.9 450.5L358.3 450.2L358.9 450.5L359.5 450.4L360.3 450.9L360.7 451.4L361.4 451.0L362.4 451.7L363.2 451.3L363.8 452.1L364.4 452.3L366.6 451.5L368.4 452.2L370.7 451.4L371.9 452.1L373.2 452.3L373.9 451.9L374.7 452.0L375.4 451.7L376.6 452.1L377.2 451.8L377.9 452.0L378.5 451.4L379.5 451.6L380.5 451.2L381.1 451.3L382.6 449.4L383.2 447.0L384.7 429.2L386.3 447.8L387.1 450.3L387.9 451.3L389.3 452.3L390.4 452.0L390.8 452.2L391.7 451.7L392.9 452.4L393.4 452.1L394.3 452.5L395.3 452.1L396.5 452.3L398.0 452.0L398.3 452.3L400.3 451.9L401.1 452.3L401.5 452.0L402.0 452.6L403.5 452.1L404.3 452.3L404.5 451.9L405.6 452.6L407.0 452.2L407.9 451.6L409.2 452.0L410.1 452.6L412.4 451.9L414.1 452.4L414.7 452.2L415.5 452.5L416.4 452.0L417.2 452.1L417.7 451.8L418.8 452.2L420.2 451.8L420.9 452.1L421.2 451.8L422.7 452.7L422.9 452.4L423.7 452.7L424.0 452.4L424.8 452.6L425.6 452.4L426.5 452.8L427.3 452.3L428.0 452.8L428.9 452.2L429.9 452.6L430.6 452.1L431.1 452.4L432.5 452.2L433.0 452.8L433.8 452.3L435.0 452.5L435.5 452.1L436.2 452.4L437.8 452.2L438.6 452.6L439.0 452.3L440.4 452.2L442.0 452.7L443.2 452.5L444.2 453.0L444.5 452.6L446.4 452.6L446.6 452.3L448.8 452.2L449.7 452.3L450.0 452.6L450.8 452.7L451.4 453.2L452.6 452.9L454.5 451.9L455.1 452.1L456.1 451.8L457.0 452.3L457.9 452.0L458.6 452.4L459.3 452.0L459.7 452.3L460.0 452.1L460.3 452.4L460.8 452.1L461.7 452.3L462.1 451.9L463.1 451.8L463.6 451.3L464.3 451.3L465.1 450.6L465.7 449.3L466.4 445.2L467.7 431.5L469.5 449.0L470.3 451.0L471.8 452.0L472.9 452.3L473.3 452.0L474.1 452.6L475.4 452.7L475.8 453.0L476.8 452.4L477.3 452.6L478.3 452.3L479.4 452.5L479.7 452.3L479.8 452.5L480.6 452.4L481.5 452.8L481.9 452.5L482.5 452.8L484.9 452.4L488.0 453.3L488.8 452.7L489.5 452.9L490.7 452.1L491.1 452.2L491.4 451.9L492.5 451.7L493.3 452.5L493.9 452.6L494.4 453.1L495.7 452.7L496.4 453.3L496.9 452.8L497.2 452.9L498.2 452.7L498.9 452.2L499.4 452.7L501.4 452.9L502.0 452.7L502.3 452.9L503.5 452.5L504.7 452.5L505.1 452.2L506.6 452.3L507.1 451.6L508.5 451.9L509.1 451.4L509.6 451.7L510.2 451.6L511.2 451.0L511.9 450.3L512.8 445.8L514.4 417.5L515.5 434.5L515.8 436.9L516.1 436.4L517.5 408.2L518.8 437.9L519.6 446.8L520.2 449.1L521.1 450.7L522.5 451.5L523.4 451.4L525.9 452.4L526.1 452.0L526.8 452.5L528.3 452.4L528.6 452.9L529.0 452.5L530.4 453.2L531.1 452.7L531.6 452.8L532.1 452.2L532.5 452.4L532.9 452.2L533.6 452.6L533.9 452.4L534.6 453.0L535.4 452.8L536.3 453.0L536.6 452.7L537.1 453.0L538.2 452.5L538.4 452.8L538.7 452.5L539.0 452.7L539.8 452.2L541.1 452.4L541.6 451.8L542.1 451.9L542.6 451.5L543.1 450.5L543.7 447.7L545.2 433.9L546.6 446.5L547.3 449.9L547.7 451.0L548.4 451.6L549.2 452.1L549.3 451.8L550.1 452.0L550.2 452.3L550.8 452.0L553.5 452.5L554.6 452.1L554.8 452.4L555.9 452.2L556.9 452.7L557.7 452.3L558.9 452.4L559.8 452.2L562.0 452.5L562.9 452.3L563.0 452.6L563.4 452.3L564.5 452.6L564.8 453.0L566.8 453.0L568.0 453.6L568.9 453.2L569.5 453.5L570.3 453.0L571.3 453.2L572.1 452.7L572.4 453.0L572.8 452.7L573.7 453.1L574.2 452.7L575.3 452.9L575.7 452.3L577.3 452.7L578.0 453.2L578.2 453.0L579.0 453.7L579.4 453.5L579.8 453.7L581.9 453.2L582.9 452.5L583.9 453.0L584.4 452.7L585.1 453.2L586.0 453.4L586.3 453.1L588.4 452.7L589.1 452.9L589.4 452.7L590.2 453.1L590.6 452.9L591.0 453.3L591.2 453.1L592.8 453.7L594.6 453.2L595.1 452.8L596.0 452.8L596.2 452.6L597.5 453.2L598.9 452.5L599.2 452.8L599.4 452.6L600.4 453.1L600.7 452.9L601.4 453.5L602.1 453.3L602.4 452.8L603.0 452.8L605.0 453.4L606.2 453.1L606.8 453.4L607.5 452.9L608.5 453.1L609.5 452.5L611.0 452.4L612.1 452.9L612.8 452.4L613.1 452.5L615.7 447.9L617.5 451.7L618.2 452.5L618.8 452.7L619.5 452.3L620.5 450.9L622.6 445.3L623.3 444.9L625.7 451.2L627.7 452.5L628.5 452.5L629.4 453.0L630.3 452.8L631.3 453.4L631.7 453.1L632.6 453.3L633.2 452.9L633.6 453.2L634.6 453.1L635.3 453.5L636.1 453.3L636.7 453.5L637.6 453.0L640.3 453.6L641.2 452.9L641.7 453.0L642.6 452.4L643.7 453.1L644.5 453.0L645.0 453.4L646.0 453.0L647.1 453.3L647.8 452.9L648.5 453.3L650.3 452.4L651.6 450.1L652.2 449.6L653.5 451.5L654.2 452.1L655.1 452.4L655.6 451.9L656.5 449.6L657.8 441.8L658.3 440.4L660.2 450.5L660.8 451.8L661.4 452.0L661.8 452.5L662.1 452.3L662.5 452.5L662.6 452.2L663.8 452.8L664.9 452.7L666.4 453.4L667.6 453.3L667.8 453.6L668.2 453.2L670.2 453.8L671.7 453.1L672.2 453.4L672.8 453.1L673.2 453.3L673.5 453.0L674.3 452.9L677.3 449.6L678.3 449.1L679.1 449.6L679.8 450.9L680.2 451.1L681.4 452.6L682.2 452.4L683.0 453.0L684.3 453.0L685.2 453.3L686.2 453.1L686.8 453.5L688.2 453.2L689.1 453.3L689.6 453.0L689.9 453.4L691.2 453.6L691.6 453.3L692.8 453.2L695.6 454.1L696.6 453.6L697.2 453.7L698.0 453.2L698.9 453.3L700.3 454.0L700.9 453.7L701.2 454.0L702.7 453.6L703.5 453.8L704.3 453.5L705.5 453.9L706.0 453.5L706.4 453.7L707.2 453.4L709.4 454.1L710.3 453.4L712.1 454.1L714.4 453.4L714.9 453.8L715.8 453.9L716.2 453.6L716.8 454.1L718.0 454.1L718.6 454.6L719.5 453.9L720.7 453.8L720.8 453.4L721.9 453.8L722.2 453.7L722.7 454.1L722.9 453.7L723.3 454.0L724.0 453.7"/>
<path stroke="#f7801a" d="M68.4 427.0L71.2 427.4L72.8 426.6L73.8 426.6L74.3 426.9L74.8 426.6L75.3 426.8L76.0 426.4L77.3 426.8L78.2 426.6L78.6 427.1L78.8 426.8L79.5 426.6L80.7 426.9L81.1 426.4L83.1 426.5L84.5 427.3L85.5 427.3L86.1 426.9L87.3 426.8L88.6 427.4L89.1 427.1L89.4 427.5L90.9 427.0L91.6 427.2L93.2 427.1L93.9 427.4L94.5 427.2L95.6 427.8L97.0 426.8L97.8 426.9L98.2 426.6L99.7 427.4L100.4 426.6L100.7 426.8L101.8 426.5L102.4 427.0L103.7 427.1L104.2 427.4L106.0 427.0L106.8 427.3L107.9 427.1L108.6 427.5L111.1 426.6L112.3 426.6L114.0 427.2L114.5 426.9L114.8 427.1L116.2 427.0L116.5 426.7L117.7 426.9L118.7 426.3L119.7 426.4L120.1 426.0L121.1 426.3L122.3 426.4L123.2 426.9L125.3 426.7L126.2 426.6L128.4 425.2L130.5 425.1L130.9 424.7L131.3 424.9L133.1 424.2L134.6 422.0L136.0 417.0L136.9 409.1L137.4 400.8L138.2 367.4L139.4 139.3L140.3 328.9L140.9 387.1L141.5 403.2L142.5 413.7L143.2 416.9L144.0 418.9L144.8 420.4L146.3 421.9L147.4 421.9L148.3 422.8L149.0 422.8L149.5 423.2L151.6 422.2L152.3 422.4L152.9 422.2L154.1 422.8L154.7 422.5L155.4 422.9L155.9 422.5L157.0 422.8L157.8 422.5L158.7 423.3L159.2 423.2L159.7 423.6L160.9 423.2L161.9 422.5L162.5 422.7L163.5 422.3L164.7 422.4L166.1 423.1L167.7 423.0L167.8 423.2L169.5 423.3L170.4 423.7L171.1 423.3L172.2 423.5L173.0 423.1L173.5 423.4L174.3 423.1L175.5 423.3L177.1 423.1L179.0 424.0L179.6 423.8L180.0 424.1L180.8 423.6L181.5 423.6L182.2 424.3L182.8 424.2L184.0 425.0L184.6 424.6L185.6 424.7L186.5 424.4L186.9 424.7L187.3 424.5L188.3 424.9L189.4 424.8L190.3 425.1L192.3 424.8L193.6 425.2L194.6 426.0L195.1 425.8L195.9 426.1L199.2 425.4L200.7 425.4L201.7 426.0L202.2 425.7L203.1 426.1L204.6 426.0L205.1 425.6L206.4 425.6L207.9 426.8L208.2 426.6L208.9 427.0L210.5 426.5L211.8 427.1L214.2 426.8L215.3 427.3L215.7 426.9L217.8 426.5L218.4 427.1L219.2 426.9L219.4 427.2L219.7 426.9L220.7 427.1L221.7 428.1L221.9 427.9L222.5 428.1L223.2 428.0L224.2 427.3L224.3 427.6L225.2 427.7L226.1 427.6L226.6 427.8L227.3 427.5L228.1 428.0L230.4 428.6L231.9 428.1L232.3 428.2L232.7 427.9L233.1 428.3L233.7 428.1L233.9 428.4L235.5 428.4L236.0 428.6L237.4 428.7L237.9 428.3L239.1 428.5L240.3 429.3L240.9 429.0L241.9 429.2L242.3 428.8L242.9 429.0L243.5 428.7L244.6 428.9L244.9 428.7L246.4 429.8L247.2 429.6L247.6 429.9L248.9 428.8L250.5 429.2L252.4 430.3L253.3 430.3L255.3 429.4L256.9 429.9L259.2 429.5L259.7 429.8L260.6 429.8L260.8 430.1L261.2 430.0L262.5 430.7L262.8 430.5L263.0 430.6L263.7 430.5L264.5 430.0L265.3 430.3L265.9 430.1L266.9 430.5L267.8 430.2L268.3 430.6L269.1 430.2L269.9 430.5L270.7 430.4L272.1 431.0L274.1 430.9L274.6 430.4L275.2 430.3L275.6 430.6L276.5 430.4L277.1 430.8L278.1 430.4L278.7 431.0L279.6 430.5L280.6 430.6L281.0 430.0L282.5 429.6L283.8 427.1L284.3 425.1L284.9 420.6L285.3 413.8L285.9 391.7L286.8 330.2L288.1 409.8L288.8 422.0L289.5 426.0L290.4 428.4L291.4 429.7L292.1 429.7L292.8 430.1L294.3 429.9L294.8 430.1L295.6 429.3L296.1 428.3L296.5 426.7L297.4 418.3L298.1 423.1L298.3 423.8L298.6 423.3L299.2 417.1L300.2 390.3L301.7 423.2L302.6 428.4L304.0 430.7L304.8 431.1L305.5 430.9L306.0 431.3L306.8 431.1L307.8 431.5L308.7 431.2L309.2 431.7L310.0 431.7L311.0 432.1L312.4 431.3L313.7 431.3L314.2 431.6L314.3 431.4L314.9 431.9L315.6 431.8L316.8 432.3L317.0 432.0L317.5 432.2L317.8 431.8L318.1 432.0L319.0 431.9L321.4 432.4L322.0 431.9L322.2 432.2L323.7 431.9L324.2 432.3L324.9 432.0L325.6 432.3L327.0 431.8L327.4 432.0L329.3 431.6L329.5 431.9L330.3 432.1L331.2 432.0L331.9 432.4L331.9 432.2L332.6 432.4L333.1 432.2L333.7 432.4L336.5 431.4L336.8 431.6L337.2 431.4L337.7 431.9L338.6 431.7L339.0 432.0L339.2 431.8L339.7 432.0L340.4 431.6L341.0 431.9L341.5 431.4L343.1 431.2L343.4 430.6L344.7 430.1L346.4 427.5L347.5 423.3L348.3 415.7L348.9 402.3L349.5 365.7L350.5 240.0L351.5 373.5L352.3 409.5L352.9 419.8L354.0 426.4L355.2 429.2L357.2 430.9L357.7 431.0L358.9 432.0L359.7 431.7L361.1 431.9L362.0 432.6L363.3 432.8L364.1 432.4L364.7 432.6L365.5 432.3L365.9 432.6L366.5 432.6L367.0 432.1L367.9 432.4L368.9 432.1L369.8 432.6L371.2 432.6L371.5 432.8L374.4 432.5L375.5 432.9L376.3 432.7L377.4 433.0L378.3 432.9L378.8 433.1L379.2 432.8L379.7 432.9L381.3 431.8L381.7 431.8L382.5 430.7L383.2 428.0L384.7 410.3L385.9 425.5L386.5 429.8L387.0 431.0L388.3 432.2L390.7 432.8L392.7 432.7L393.8 432.2L394.8 432.9L395.8 432.9L397.0 432.5L397.8 432.9L399.0 432.8L399.2 433.1L400.3 432.4L401.0 432.8L401.3 432.5L402.8 433.6L403.3 433.4L403.8 433.8L404.4 433.1L407.0 433.4L407.4 432.9L407.9 432.9L408.5 432.1L409.6 432.0L411.1 433.1L413.6 432.4L414.3 432.7L414.7 432.5L415.1 432.9L415.8 432.9L417.0 433.4L417.4 433.0L417.6 433.2L419.2 432.5L421.5 433.5L422.0 433.0L422.3 433.3L423.5 432.9L424.2 433.0L424.4 433.5L426.6 433.4L428.2 432.5L429.6 432.9L430.6 433.6L432.9 432.7L433.8 433.1L434.5 432.6L435.2 432.8L435.6 432.5L438.5 433.6L439.5 433.3L440.2 433.5L441.6 432.9L442.7 433.3L442.9 433.0L444.5 433.1L444.9 432.8L446.3 433.5L448.8 432.8L450.9 433.3L451.8 433.0L453.0 433.4L453.3 433.0L455.5 432.9L456.7 433.5L457.9 432.8L458.1 433.1L459.2 433.0L459.5 433.3L460.2 433.3L460.8 432.8L462.0 432.8L464.3 431.9L465.6 430.2L466.5 425.0L467.7 411.8L469.2 427.9L469.6 430.1L470.2 431.6L470.7 432.1L471.6 432.0L472.2 432.6L472.6 432.4L472.9 432.8L473.1 432.8L473.8 433.5L474.7 433.4L474.8 433.7L475.5 433.6L476.5 432.8L477.2 433.2L477.5 433.0L478.7 433.2L479.0 433.5L479.7 433.1L481.1 433.4L483.5 432.9L484.5 433.4L485.8 433.1L486.6 433.3L487.0 433.0L488.1 433.0L488.3 433.3L489.0 433.1L489.3 433.3L490.2 432.9L490.9 433.2L491.6 433.1L492.7 433.9L493.4 433.4L495.2 433.2L496.7 433.8L497.3 433.8L499.2 432.7L501.2 433.6L502.7 433.4L503.2 433.1L505.4 433.3L506.8 432.6L507.3 432.7L507.7 432.4L508.1 432.6L510.2 432.1L511.1 431.3L511.9 430.1L512.8 426.3L514.4 398.4L515.6 415.7L515.8 417.4L516.1 417.0L517.5 388.5L518.8 418.4L519.6 427.2L520.3 429.8L522.1 432.0L523.2 431.8L523.6 432.2L526.2 433.1L526.5 432.9L526.6 433.2L527.1 433.0L527.9 433.4L528.9 432.9L529.3 433.3L530.4 432.9L530.6 433.1L530.9 432.7L531.3 433.1L531.9 432.9L532.4 433.3L532.6 433.0L533.3 433.6L536.0 433.1L537.0 433.7L537.6 433.5L538.0 433.9L539.4 432.8L539.8 433.0L540.5 432.5L541.0 432.8L541.9 432.7L543.0 431.1L543.8 427.4L545.2 414.1L547.2 430.1L547.8 431.3L548.8 432.3L550.2 433.0L552.1 433.2L552.3 433.5L555.2 432.8L557.4 433.3L557.9 433.7L558.3 433.5L558.9 433.8L559.5 433.5L559.9 433.6L560.2 433.4L561.0 433.7L561.4 433.4L561.9 433.7L563.4 433.5L563.9 433.8L564.6 433.4L564.9 433.7L566.2 433.5L568.1 433.9L569.7 433.3L570.1 433.6L571.0 433.5L572.2 433.9L573.7 433.4L574.3 433.7L574.8 433.7L575.0 433.9L575.3 433.7L576.9 434.2L577.6 433.7L578.7 433.8L579.4 433.2L580.7 433.9L581.7 433.8L582.3 434.2L583.6 433.8L584.1 434.1L584.8 433.5L585.2 433.9L586.6 433.8L587.2 434.1L587.9 433.6L588.5 433.9L589.7 433.8L590.3 434.2L591.4 433.5L594.3 434.2L595.6 434.0L596.1 434.6L597.6 434.7L599.4 433.8L599.9 434.0L600.5 433.8L601.3 434.3L603.2 434.3L604.4 433.5L605.3 433.4L606.1 433.1L607.1 433.9L608.0 433.9L608.5 434.4L609.6 433.9L609.8 434.1L610.8 433.4L612.1 433.5L612.5 433.3L612.7 433.5L613.3 433.3L615.5 429.2L617.5 432.6L618.6 433.1L619.3 432.5L619.6 432.6L620.7 430.6L622.1 426.5L623.1 425.2L623.5 425.5L625.9 432.0L627.7 433.6L628.5 433.3L630.3 433.4L631.0 434.0L632.3 433.7L633.0 433.9L633.3 433.5L633.6 433.7L634.4 433.5L635.1 433.8L635.8 433.4L636.8 433.8L637.5 433.5L638.3 434.0L639.2 433.9L639.6 434.3L639.8 434.0L640.7 434.3L641.9 434.0L642.3 434.4L642.5 434.1L643.0 433.9L643.7 434.2L644.1 433.9L644.4 434.1L644.7 433.9L645.4 434.0L646.1 433.6L648.3 433.3L649.4 432.9L649.7 433.0L652.1 430.2L652.7 430.8L653.6 432.5L654.1 433.0L654.8 433.0L655.5 432.8L656.4 430.8L658.0 422.2L658.3 421.6L660.4 431.6L661.2 432.9L663.4 434.0L666.1 433.7L667.2 434.4L667.6 434.2L668.6 434.4L669.0 434.0L671.0 434.2L671.8 434.6L673.5 434.4L674.4 433.7L674.7 433.8L675.5 433.3L676.8 431.6L677.5 430.0L678.5 429.2L679.3 429.9L680.9 432.7L682.1 433.2L683.0 432.9L683.5 433.0L684.0 433.5L686.0 434.1L688.0 433.9L689.4 434.4L689.6 434.2L690.5 434.5L690.8 433.9L691.7 434.1L691.7 433.8L692.1 434.4L693.5 434.6L694.5 434.3L694.8 434.5L696.0 434.0L696.7 434.1L697.2 433.8L697.8 434.2L698.7 434.4L699.1 434.2L699.9 434.5L701.1 434.0L701.7 434.3L702.3 434.0L702.5 434.2L703.4 433.9L704.8 434.2L704.9 434.1L705.8 434.6L707.1 434.5L708.5 435.0L709.2 434.8L710.3 434.9L710.5 434.6L711.3 434.5L712.0 434.7L713.5 434.7L713.8 434.9L714.4 434.6L715.3 434.8L717.7 434.2L720.6 435.0L722.4 434.7L723.4 434.9L724.0 434.7"/>
</g>
<g fill="none" stroke-width="2.4" stroke-linejoin="round" stroke-linecap="round">
<path stroke="#000000" d="M830.0 495.2L830.6 495.3L831.1 495.1L831.5 495.2L832.1 494.9L832.3 495.0L834.4 494.7L835.3 495.0L836.9 494.4L837.9 494.7L838.4 494.6L838.8 494.8L839.7 494.8L840.4 494.9L841.7 494.7L843.2 495.1L845.1 494.6L847.4 494.5L848.4 494.2L849.7 494.1L849.9 494.4L850.3 494.2L851.0 494.6L851.5 494.4L852.3 494.5L853.1 494.1L854.1 494.2L855.9 493.9L856.3 494.1L856.9 493.9L857.7 494.0L858.3 493.9L859.3 494.3L859.5 494.2L859.8 494.4L860.1 494.4L860.5 494.6L860.9 494.4L861.3 494.6L862.9 494.2L865.5 494.5L866.9 494.5L867.2 494.3L869.4 494.9L870.3 494.4L871.6 494.7L872.7 494.6L873.7 494.8L874.3 494.5L874.7 494.6L875.4 494.5L876.4 494.9L878.3 494.3L878.7 494.6L880.0 494.2L881.2 494.4L881.5 494.7L882.1 494.6L882.5 494.8L883.4 494.8L884.3 495.2L884.7 494.9L885.2 494.9L886.0 495.4L886.6 495.1L887.2 495.3L887.5 495.2L889.7 495.0L890.4 495.2L892.0 494.7L892.6 495.0L893.2 494.8L895.5 494.6L896.0 494.3L896.9 494.3L898.0 494.7L898.4 494.3L899.8 494.3L901.2 493.9L903.0 494.2L904.9 493.6L905.3 493.8L906.6 493.8L906.8 494.0L909.6 493.9L911.3 494.4L912.0 494.2L912.6 494.6L912.9 494.5L913.7 494.8L914.6 494.3L916.3 494.4L917.0 494.3L917.3 494.0L918.0 494.2L919.6 493.9L921.2 494.3L922.8 494.2L923.3 494.5L923.9 494.6L924.6 494.2L925.4 494.2L925.7 494.0L926.7 494.1L928.2 493.8L928.8 494.0L929.9 493.6L930.6 494.0L931.3 493.8L931.8 494.0L933.9 493.9L934.9 494.0L936.5 493.3L937.6 493.5L939.1 493.2L939.5 493.3L941.0 492.8L941.6 492.9L941.8 493.2L945.5 493.2L946.8 493.6L947.0 493.4L947.5 493.6L947.8 493.3L948.4 493.6L948.7 493.4L950.3 493.6L951.9 493.1L953.1 493.3L953.5 493.2L953.8 493.4L955.9 492.8L956.9 493.1L957.5 493.1L959.1 492.3L959.5 492.5L959.9 492.3L961.7 492.6L963.4 492.5L963.6 492.7L964.7 492.9L965.2 493.1L966.7 492.6L968.2 493.0L971.5 492.6L971.8 492.8L972.5 492.9L974.2 492.3L975.5 492.2L976.0 492.4L976.8 492.3L977.4 492.0L978.8 491.9L979.3 491.6L981.0 491.8L981.4 491.6L983.1 491.8L983.4 492.0L984.6 492.0L985.3 492.4L986.6 492.5L987.1 492.3L990.5 492.2L992.2 491.5L993.4 491.7L995.9 490.7L997.1 490.6L997.7 491.0L998.5 490.8L999.5 490.9L1001.4 491.4L1002.7 491.1L1003.2 491.2L1003.7 490.9L1004.5 490.9L1006.2 490.5L1010.6 490.7L1012.0 490.4L1012.7 490.5L1013.6 490.2L1014.2 490.3L1015.5 490.2L1016.1 490.0L1017.2 490.0L1018.3 489.7L1019.6 489.7L1024.2 488.9L1025.0 488.5L1026.9 488.4L1027.6 488.2L1028.4 488.3L1029.6 488.0L1031.1 488.2L1032.3 487.8L1033.8 487.7L1034.8 487.4L1037.4 487.3L1039.7 486.7L1042.0 486.4L1043.3 486.0L1045.4 485.8L1046.8 485.2L1051.8 484.1L1052.5 484.2L1061.0 481.3L1063.6 480.7L1066.9 479.4L1070.6 477.7L1075.0 475.3L1082.3 470.1L1085.7 467.3L1088.9 464.1L1092.5 460.1L1097.3 454.1L1102.6 445.7L1108.0 435.9L1112.8 425.5L1118.2 411.9L1122.7 398.7L1127.2 383.5L1130.4 371.0L1133.4 357.8L1135.9 345.5L1138.4 331.9L1141.2 314.7L1144.1 294.5L1152.1 231.0L1154.6 213.1L1156.1 204.5L1157.4 198.8L1158.6 195.4L1160.1 193.2L1161.3 195.2L1162.4 199.1L1163.5 205.4L1164.7 214.6L1167.0 237.0L1173.3 308.5L1176.9 345.3L1181.0 380.2L1183.2 395.8L1185.4 409.5L1187.7 421.8L1190.1 432.8L1192.5 442.0L1195.2 450.6L1198.0 457.7L1201.2 464.1L1204.8 469.6L1208.5 473.9L1210.6 475.8L1213.4 477.7L1221.2 481.8L1223.7 482.6L1226.3 483.0L1229.5 483.8L1232.9 485.2L1238.3 485.9L1242.8 487.2L1244.4 487.3L1245.5 487.2L1247.2 487.5L1249.5 487.4L1251.7 488.2L1253.0 488.3L1253.2 488.1L1255.5 488.7L1256.5 488.8L1256.7 488.6L1257.2 488.8L1259.0 489.0L1259.3 489.2L1260.1 489.1L1260.8 489.3L1262.5 489.0L1262.8 489.1L1263.3 488.9L1265.0 489.4L1267.9 489.5L1269.2 490.0L1270.5 489.9L1271.5 490.1L1271.7 490.0L1273.0 490.0L1273.5 490.3L1274.5 490.3L1275.8 490.7L1277.0 490.4L1277.3 490.2L1277.8 490.6L1278.7 490.4L1279.8 490.5L1281.8 490.1L1282.1 490.3L1282.9 490.2L1283.3 490.4L1283.8 490.0L1284.7 490.4L1285.4 490.1L1287.1 490.3L1288.0 490.1L1289.0 490.5L1289.5 490.4L1289.9 490.6L1290.7 490.3L1293.3 490.2L1294.3 490.6L1296.0 490.0L1298.4 490.5L1298.8 490.2L1299.3 490.4L1299.6 490.2L1300.1 490.2L1300.6 490.0L1301.4 490.6L1302.6 490.5L1304.0 490.8L1304.4 490.7L1306.5 491.0L1307.4 490.6L1308.1 490.7L1308.7 491.0L1309.4 491.0L1310.1 490.7L1310.9 491.0L1312.3 490.6L1314.1 491.0L1314.7 490.7L1315.5 490.8L1315.9 491.0L1316.6 490.8L1318.2 491.2L1318.6 491.0L1318.9 491.2L1320.0 491.2L1320.4 491.4L1321.1 491.1L1321.7 491.3L1322.3 491.1L1322.6 491.4L1323.6 491.4L1324.5 491.8L1326.3 491.6L1327.4 492.0L1327.8 491.8L1328.3 492.0L1329.1 491.7L1329.6 491.8L1330.5 491.3L1331.2 491.5L1331.9 491.3L1333.1 491.7L1333.7 491.6L1334.1 491.9L1334.7 491.6L1335.1 491.8L1335.4 491.7L1335.9 491.9L1338.0 492.1L1339.3 491.7L1339.8 492.0L1340.2 491.6L1340.9 491.8L1341.9 491.3L1342.4 491.4L1343.0 491.1L1343.6 491.3L1344.2 491.0L1345.0 491.2L1345.3 491.4L1345.8 491.2L1346.6 491.6L1346.9 491.4L1348.9 492.1L1349.6 492.0L1349.9 492.1L1350.6 492.0L1350.8 492.2L1352.3 492.4L1352.8 492.2L1353.0 492.4L1353.4 492.2L1354.5 492.3L1355.2 491.9L1356.1 492.1L1356.3 491.8L1357.5 491.5L1357.9 491.6L1359.7 491.5L1361.2 492.0L1361.8 491.8L1363.2 492.1L1364.2 491.5L1365.1 491.7L1366.9 491.1L1367.8 491.3L1368.6 491.0L1370.5 491.4L1371.6 491.3L1373.0 491.7L1373.7 491.5L1375.8 491.6L1379.0 491.1L1380.3 491.4L1380.8 491.8L1381.9 491.9L1382.7 491.8L1383.3 492.1L1383.8 491.9L1387.0 491.6L1388.0 491.3L1388.7 491.6L1389.3 491.4L1390.6 492.0L1391.5 491.8L1392.1 492.0L1393.2 491.7L1393.4 491.9L1394.1 491.7L1394.3 491.8L1394.9 491.5L1395.3 491.7L1395.6 491.3L1398.0 491.0L1398.3 491.1L1398.7 491.0L1399.2 491.2L1399.8 491.2L1400.0 491.5L1402.2 491.9L1403.2 491.9L1404.7 492.3L1405.7 492.2L1405.8 492.3L1406.3 492.2L1406.4 492.3L1406.8 492.1L1409.1 492.5L1411.5 491.9L1411.7 492.1L1411.9 491.9L1413.7 492.1L1414.7 491.8L1415.7 492.0L1416.4 492.4L1417.1 492.2L1417.4 492.4L1417.7 492.3L1418.1 492.5L1418.4 492.2L1418.8 492.5L1420.1 492.3L1420.9 492.5L1421.7 492.3L1422.4 491.9L1423.1 492.2L1423.4 492.0L1424.4 492.3L1425.9 491.7L1426.7 492.0L1427.6 491.9L1428.3 492.2L1428.7 492.1L1429.4 492.3L1430.4 492.2L1431.3 492.7L1431.7 492.5L1432.3 492.6L1432.8 492.3L1433.8 492.6L1434.9 492.3L1436.0 492.4L1437.1 491.8L1438.0 492.1L1439.2 492.0L1439.7 491.8L1440.6 492.1L1441.3 491.8L1442.3 491.7L1443.1 492.0L1443.2 491.8L1444.1 491.9L1445.7 492.5L1446.9 492.2L1447.3 492.4L1447.7 492.3L1448.3 492.5L1448.7 492.3L1449.2 492.6L1450.6 492.2L1451.1 492.3L1452.2 491.8L1452.9 492.3L1454.2 492.1L1454.5 492.3L1455.2 492.0L1455.6 492.2L1456.5 492.1L1457.5 492.2L1458.1 492.5L1458.7 492.3L1460.3 492.6L1462.1 492.3L1462.6 492.4L1462.9 492.2L1464.1 492.0L1464.6 491.9L1464.7 492.1L1466.1 491.4L1467.5 491.5L1468.1 491.9L1468.6 491.8L1468.9 492.0L1469.9 491.7L1471.0 491.8"/>
<path stroke="#f51414" d="M830.0 474.9L831.2 474.7L832.0 475.1L833.4 474.8L834.1 475.1L834.4 474.9L834.8 475.2L835.4 474.9L836.8 475.1L838.2 474.9L839.4 475.1L840.5 474.9L841.1 474.9L841.6 475.2L842.7 475.1L843.0 475.3L843.4 475.1L845.1 475.2L845.8 475.0L846.5 475.2L847.2 475.0L847.6 474.7L848.6 475.0L849.1 474.7L849.4 475.0L851.3 474.6L852.0 474.7L852.1 474.6L853.2 474.7L853.6 474.9L854.5 474.5L855.6 474.3L856.4 474.4L856.8 474.6L857.1 474.5L857.3 474.8L857.5 474.7L857.8 474.9L858.5 474.8L858.7 474.9L860.6 474.9L861.4 475.4L861.6 475.3L862.0 475.4L863.9 474.7L864.4 474.8L865.2 474.6L865.3 474.7L866.1 474.7L866.3 474.9L867.4 474.4L867.6 474.5L868.4 474.4L869.0 474.7L870.2 474.4L871.2 474.6L872.3 474.4L872.7 474.6L874.9 474.5L875.5 474.9L877.5 475.0L877.8 475.2L878.8 474.9L879.5 475.0L879.8 474.8L880.5 474.9L881.1 474.5L882.6 474.1L883.8 473.6L884.9 473.8L885.1 473.6L885.7 473.8L886.7 473.8L888.1 474.2L889.5 474.0L889.8 474.2L890.9 473.9L891.1 474.0L891.7 473.8L893.1 473.7L893.5 473.9L894.2 473.8L894.8 474.1L895.8 473.8L898.1 474.3L900.9 473.3L901.2 473.5L902.6 473.5L904.3 473.2L906.8 474.0L907.3 473.9L907.6 474.1L908.8 473.8L909.5 474.2L910.2 473.8L911.2 473.7L912.0 473.4L913.9 473.3L914.8 473.7L915.5 473.2L916.3 473.4L916.6 473.3L917.9 473.3L918.5 473.1L919.2 473.1L919.6 472.8L920.3 472.9L920.7 472.7L921.4 472.8L921.6 472.6L922.6 473.1L923.1 473.0L923.5 473.3L925.3 473.1L926.1 473.4L927.4 473.4L927.6 473.6L928.5 473.1L929.1 473.3L929.4 473.1L930.2 473.5L930.7 473.3L931.5 473.4L932.1 472.9L932.6 473.1L934.0 473.0L934.4 473.3L934.8 473.0L935.4 473.0L935.5 472.8L936.2 472.7L936.4 472.8L937.2 472.6L937.7 472.9L938.2 472.9L938.7 472.7L939.7 472.7L940.4 472.4L941.6 472.7L942.4 472.4L943.2 472.7L946.2 472.5L946.6 472.6L947.3 472.5L947.8 473.0L948.5 472.7L949.0 473.0L950.9 472.6L952.2 473.0L953.2 472.8L953.7 472.4L954.5 472.7L954.8 472.5L954.9 472.6L955.8 472.3L956.9 472.6L959.0 472.1L962.6 472.4L963.5 472.2L964.0 472.5L965.0 472.7L965.5 472.4L967.1 472.5L968.2 472.2L968.8 472.4L970.0 472.2L970.7 472.4L971.1 472.2L971.7 472.4L972.4 472.2L973.7 472.4L974.9 472.1L976.0 472.3L977.9 471.9L978.5 472.0L979.0 471.7L979.5 471.9L979.7 471.7L980.3 472.0L981.0 471.8L981.8 471.9L982.5 471.6L983.3 471.6L983.9 471.9L984.7 471.8L985.2 471.9L985.6 471.6L986.7 471.5L987.8 471.0L989.1 471.2L989.7 470.9L991.3 470.6L993.1 471.0L994.3 470.9L995.1 470.4L996.9 470.4L997.4 470.2L998.4 470.2L998.6 470.0L999.6 470.3L1000.1 470.1L1000.9 470.3L1001.1 470.6L1002.0 470.4L1003.5 470.7L1004.9 470.3L1006.2 470.5L1009.6 470.0L1010.3 470.2L1010.9 470.2L1011.7 469.7L1012.8 469.4L1013.5 469.5L1015.0 469.2L1015.8 469.4L1016.2 469.2L1017.0 469.2L1017.7 469.5L1018.9 469.2L1020.0 469.2L1022.4 468.3L1025.4 468.0L1028.0 467.3L1028.6 467.5L1031.3 466.6L1033.1 466.4L1034.9 465.9L1036.6 466.0L1039.3 465.4L1040.4 465.6L1042.0 465.0L1045.3 464.3L1045.9 464.0L1050.9 463.0L1051.4 462.7L1051.8 462.8L1052.3 462.5L1056.5 461.3L1058.8 461.0L1060.4 460.5L1063.7 459.0L1065.4 458.6L1066.2 458.1L1068.1 457.7L1069.8 456.9L1071.3 455.9L1076.3 453.5L1083.4 448.6L1087.7 444.9L1094.3 438.1L1098.8 432.4L1102.0 427.8L1105.0 423.0L1110.1 413.4L1114.8 403.0L1119.3 391.4L1123.4 379.1L1127.5 364.9L1130.9 351.4L1133.9 337.9L1137.1 321.5L1140.2 303.7L1144.7 274.0L1153.8 205.5L1157.3 182.7L1158.9 174.7L1160.6 168.5L1162.0 165.6L1162.7 164.9L1163.3 165.0L1163.5 164.7L1163.9 165.0L1164.4 166.2L1165.3 170.0L1166.2 176.0L1167.2 184.8L1169.4 209.9L1175.2 286.4L1178.0 318.7L1179.9 337.8L1181.9 355.6L1183.9 371.2L1186.0 385.3L1188.3 398.6L1190.9 411.1L1193.7 422.1L1196.4 430.7L1199.2 437.9L1202.7 444.9L1206.2 450.1L1209.9 454.2L1213.4 457.1L1216.9 459.4L1220.2 461.2L1228.0 464.7L1228.9 464.8L1230.3 465.3L1231.7 465.4L1233.2 465.9L1234.1 466.0L1235.0 466.5L1236.5 466.6L1237.7 467.1L1239.7 467.4L1241.1 467.4L1243.1 468.0L1244.4 468.0L1245.4 468.4L1246.0 468.3L1248.8 468.7L1249.5 468.6L1250.3 468.9L1251.4 468.9L1251.8 469.2L1252.2 469.1L1252.5 469.3L1253.9 469.2L1254.4 469.5L1255.0 469.3L1256.6 469.6L1257.3 469.4L1258.3 469.8L1258.6 469.7L1259.3 470.1L1259.6 470.0L1259.9 470.3L1260.9 470.1L1261.4 470.3L1262.6 470.2L1263.3 470.5L1265.0 470.2L1266.6 470.4L1267.4 470.2L1268.7 470.6L1269.2 470.5L1270.1 470.9L1270.8 470.8L1271.1 471.0L1272.0 470.8L1272.7 471.2L1273.1 471.1L1273.5 471.2L1274.6 470.9L1275.0 471.0L1275.6 470.7L1276.4 470.5L1276.8 470.7L1277.4 470.5L1277.6 470.6L1277.7 470.4L1278.1 470.5L1279.5 470.3L1280.1 470.4L1281.2 470.4L1282.4 470.7L1282.9 470.5L1283.5 470.8L1284.6 470.8L1285.3 471.0L1286.3 470.9L1288.5 471.2L1289.6 471.1L1289.9 471.3L1290.4 471.0L1291.3 471.0L1292.2 471.6L1292.6 471.4L1294.8 471.8L1295.3 471.6L1295.6 471.7L1295.9 471.4L1296.8 471.8L1297.4 471.8L1298.2 471.3L1299.0 471.6L1300.6 471.3L1302.0 471.7L1302.8 471.4L1304.5 471.6L1305.2 471.2L1306.6 471.5L1307.0 471.2L1308.8 471.4L1310.4 471.3L1311.1 471.6L1311.3 471.4L1311.9 471.4L1312.4 471.1L1313.1 471.4L1313.9 471.5L1316.9 471.2L1317.6 471.8L1317.9 471.7L1318.4 471.9L1320.3 471.6L1323.2 472.3L1324.0 472.0L1325.4 472.0L1325.6 471.9L1326.0 472.0L1326.5 471.9L1326.8 472.0L1327.3 471.8L1327.5 472.0L1328.1 471.5L1329.4 471.4L1329.8 471.5L1330.4 471.1L1331.5 471.3L1332.3 471.8L1332.7 471.5L1333.3 471.9L1333.6 471.7L1335.1 472.2L1335.6 472.0L1336.5 472.4L1337.7 472.1L1338.4 472.1L1339.2 471.6L1339.9 471.5L1341.6 471.8L1341.9 471.6L1343.8 472.1L1344.4 471.8L1345.1 472.3L1345.7 472.2L1345.9 472.5L1347.0 472.2L1348.3 472.3L1349.0 472.0L1350.2 472.2L1351.3 471.8L1352.3 472.2L1353.8 472.0L1354.6 472.1L1355.5 471.8L1357.0 472.3L1357.1 472.2L1357.2 472.3L1359.0 471.9L1359.3 472.1L1360.6 471.8L1361.3 472.1L1362.3 471.8L1362.5 471.9L1362.7 471.7L1363.1 471.9L1364.5 471.5L1365.0 471.7L1365.3 471.5L1365.9 471.8L1367.2 471.7L1367.5 471.9L1369.7 471.6L1370.5 472.1L1371.0 471.8L1371.9 471.9L1372.2 472.1L1373.0 472.1L1373.2 472.2L1374.7 472.1L1375.1 472.4L1375.8 472.1L1376.0 472.2L1376.5 471.9L1377.2 472.1L1377.8 472.0L1378.0 471.7L1378.4 471.9L1379.9 471.5L1380.4 471.8L1381.1 471.5L1381.7 471.8L1382.3 471.7L1382.7 472.1L1383.2 471.9L1384.1 472.0L1384.4 471.7L1384.9 472.1L1385.4 472.1L1385.8 471.8L1386.1 472.1L1386.7 471.8L1387.7 471.7L1388.1 471.9L1389.0 471.6L1389.2 471.8L1389.9 471.8L1390.9 471.2L1392.2 471.4L1392.4 471.2L1392.6 471.5L1393.8 471.7L1394.8 471.4L1396.4 472.2L1397.1 472.4L1397.5 472.4L1397.8 472.6L1399.8 472.3L1400.1 472.5L1400.8 472.5L1401.3 472.1L1401.6 472.1L1402.4 471.6L1403.6 471.8L1403.9 471.6L1404.8 471.9L1406.0 471.9L1406.3 471.8L1406.9 472.1L1407.8 472.2L1408.4 472.5L1411.2 471.7L1411.3 471.9L1411.8 471.7L1412.4 471.9L1413.5 471.4L1414.6 471.6L1415.3 471.2L1415.9 471.6L1416.9 471.6L1417.2 471.8L1419.3 472.0L1419.6 472.1L1420.2 472.0L1421.2 472.6L1422.5 472.8L1424.6 472.4L1425.2 472.6L1426.2 472.5L1426.6 472.3L1427.4 472.4L1427.8 472.1L1428.9 472.1L1429.4 471.8L1429.7 472.0L1430.3 471.9L1431.1 471.6L1431.8 471.8L1432.2 471.7L1432.6 472.0L1434.7 471.3L1435.7 471.6L1435.9 471.9L1436.5 471.9L1437.1 472.2L1437.3 472.1L1438.0 472.4L1438.5 472.1L1438.9 472.3L1439.3 472.1L1439.8 472.6L1441.0 472.9L1441.9 472.6L1443.3 472.6L1443.7 472.3L1445.1 471.9L1445.6 472.2L1446.8 472.0L1448.2 472.4L1449.0 472.3L1449.6 472.5L1450.2 472.3L1451.1 472.4L1451.5 472.2L1452.0 472.3L1452.6 471.9L1453.3 471.9L1453.5 471.6L1454.4 471.6L1455.1 471.3L1455.3 471.5L1455.9 471.2L1457.5 471.6L1457.8 471.4L1458.2 471.7L1459.3 471.6L1459.5 471.8L1460.2 471.8L1460.5 471.5L1461.1 471.6L1461.4 471.3L1462.3 472.0L1464.5 471.8L1465.3 472.2L1466.0 472.0L1467.3 472.4L1468.1 471.9L1469.1 472.2L1469.6 472.0L1470.1 472.5L1470.8 472.7L1471.0 472.5"/>
<path stroke="#1a1ae6" d="M830.0 454.0L830.2 453.8L830.8 453.7L831.6 453.9L831.9 454.3L832.1 454.1L832.8 454.2L833.3 454.5L834.4 454.1L835.3 454.3L836.0 454.1L837.6 454.5L837.8 454.3L838.7 454.3L839.5 454.1L840.3 454.5L841.0 454.2L841.5 454.4L842.4 454.4L843.5 453.9L843.9 454.1L844.9 454.0L845.1 453.8L845.5 453.9L846.2 453.3L848.3 453.6L848.7 453.9L850.2 453.8L851.5 453.3L852.1 453.6L852.6 453.4L854.2 453.7L855.6 453.1L856.3 453.2L856.5 453.0L857.2 453.3L858.1 453.0L858.3 453.1L859.6 452.7L860.8 452.0L861.9 452.6L862.3 452.5L862.5 452.7L863.0 452.6L863.5 453.1L864.9 453.2L866.6 453.9L867.9 453.4L868.9 453.4L869.6 453.1L870.9 453.6L872.4 453.3L873.3 453.6L873.7 453.5L873.9 453.6L875.6 453.7L876.5 453.5L876.8 453.3L877.3 453.4L878.1 453.0L878.8 453.0L879.2 453.2L880.5 453.3L881.0 453.2L881.7 453.5L882.3 453.4L882.6 453.6L883.2 453.3L884.5 453.8L886.1 453.5L886.9 453.8L887.7 453.5L888.2 453.7L888.6 453.5L888.8 453.6L889.3 453.5L890.0 453.7L891.0 453.6L891.2 453.4L892.1 453.6L892.6 453.3L893.2 453.5L894.2 453.2L894.6 453.4L895.6 453.1L896.7 453.4L897.4 453.1L898.3 453.4L899.2 453.1L900.1 453.2L900.6 452.8L901.6 453.1L902.4 452.7L903.4 452.7L906.1 452.7L906.7 453.0L907.6 452.8L908.4 453.0L909.0 452.8L909.4 453.0L910.3 452.6L911.1 452.8L911.5 452.6L912.4 452.6L913.3 452.8L915.5 452.7L916.3 453.1L917.1 452.9L917.3 453.1L918.2 453.2L919.4 453.0L921.4 453.1L922.3 452.7L922.5 452.9L923.1 452.9L924.2 452.5L924.7 452.7L926.2 452.5L927.4 452.2L927.8 452.4L928.7 452.1L929.5 452.2L930.4 451.8L931.9 451.6L933.0 451.8L935.5 451.7L936.0 452.1L936.9 452.3L937.9 452.3L938.9 452.0L939.5 452.2L940.4 452.1L941.2 452.2L942.1 451.9L944.6 452.5L945.8 452.1L948.1 452.0L950.2 451.4L952.1 451.6L953.3 451.4L954.6 451.7L955.0 451.6L955.5 451.8L956.8 451.7L957.6 451.9L959.7 452.0L960.9 451.8L962.7 452.0L963.3 451.7L966.1 452.1L967.5 451.9L969.3 452.3L969.7 452.1L969.9 452.3L972.0 451.8L973.0 452.1L973.3 451.8L973.8 451.9L974.1 451.6L975.8 451.1L976.3 451.3L976.8 451.1L977.8 451.2L978.4 451.0L980.4 451.0L981.6 451.3L983.8 451.0L986.1 451.1L987.0 450.9L988.3 451.0L988.5 450.8L990.0 451.0L992.5 450.6L993.9 450.6L995.4 450.1L997.1 449.9L998.4 450.0L1000.6 449.5L1001.4 449.6L1002.0 449.5L1003.1 449.7L1004.5 449.3L1005.2 449.4L1005.8 449.2L1006.6 449.4L1008.6 449.0L1009.6 448.5L1010.3 448.7L1011.4 448.3L1011.7 448.5L1012.3 448.2L1013.5 448.1L1014.3 448.3L1014.6 448.1L1015.6 448.4L1019.0 447.8L1019.5 447.9L1020.4 447.4L1021.4 447.2L1022.6 447.3L1023.3 447.0L1025.0 446.9L1025.4 446.6L1026.9 446.8L1027.7 446.5L1028.3 446.6L1028.6 446.4L1029.9 446.1L1031.5 446.1L1032.9 445.5L1033.9 445.5L1034.3 445.2L1036.5 445.4L1037.5 444.9L1038.6 444.9L1039.8 444.5L1040.3 444.6L1042.4 443.9L1047.6 443.7L1049.5 443.3L1050.0 442.9L1050.6 442.9L1055.4 441.0L1056.9 440.8L1057.9 440.5L1060.7 440.0L1064.1 439.1L1065.6 438.4L1067.9 437.8L1070.1 436.9L1071.4 436.6L1073.9 435.5L1076.2 434.7L1079.9 432.5L1084.3 429.6L1089.9 425.0L1094.6 420.2L1100.3 412.7L1104.1 406.7L1108.1 399.2L1112.5 389.5L1116.2 379.9L1120.1 368.4L1123.7 356.3L1127.1 343.4L1130.7 328.3L1134.0 312.9L1137.2 296.4L1142.6 265.2L1152.7 200.7L1155.9 183.0L1157.7 175.0L1159.4 169.2L1160.9 165.7L1161.7 164.6L1162.4 164.0L1163.0 162.8L1163.3 163.9L1163.8 164.4L1164.4 165.6L1165.5 169.7L1166.8 177.1L1168.1 187.1L1170.5 210.2L1176.8 280.6L1180.2 315.1L1184.0 347.4L1186.0 361.6L1187.8 372.7L1189.9 384.0L1192.2 394.4L1194.5 402.9L1197.0 410.5L1199.5 416.6L1202.5 422.2L1205.9 427.2L1209.2 430.7L1213.5 434.3L1215.9 435.9L1218.7 437.4L1226.7 440.3L1228.3 441.1L1235.1 443.2L1238.6 443.6L1239.3 443.8L1240.1 443.7L1241.4 443.8L1244.5 444.3L1247.5 445.1L1248.1 445.1L1249.7 445.5L1250.1 445.4L1250.5 445.6L1251.8 445.5L1253.7 446.0L1255.0 445.9L1256.4 446.2L1257.4 446.2L1258.6 446.6L1259.6 446.3L1261.8 446.8L1262.8 446.7L1263.7 446.9L1264.5 446.7L1265.4 446.9L1267.6 446.7L1268.9 447.0L1270.2 447.1L1270.9 446.9L1273.0 447.4L1273.4 447.3L1275.2 447.4L1277.6 448.3L1279.0 448.3L1279.4 448.6L1279.8 448.5L1280.0 448.7L1281.3 448.5L1281.9 448.3L1282.3 448.5L1283.1 448.5L1285.1 448.4L1285.8 448.6L1286.4 448.4L1287.1 448.7L1287.7 448.7L1289.2 448.4L1291.0 448.3L1291.8 448.0L1292.4 448.2L1293.0 448.0L1293.5 448.2L1294.5 448.2L1295.6 448.6L1296.9 448.7L1297.8 449.1L1298.8 449.2L1299.5 449.0L1300.5 449.2L1301.2 449.1L1301.5 448.9L1303.1 448.8L1304.4 448.6L1305.8 448.9L1306.5 448.8L1307.1 449.0L1307.2 448.8L1308.5 448.9L1309.5 449.2L1310.2 449.1L1310.9 449.3L1311.3 449.1L1312.3 449.3L1312.9 449.0L1313.3 449.2L1314.9 449.2L1316.4 449.5L1316.8 449.4L1319.1 450.0L1319.5 449.8L1320.3 449.9L1321.0 449.6L1322.0 449.9L1323.1 449.8L1324.6 449.3L1327.7 449.6L1328.0 449.4L1328.9 449.5L1329.8 449.3L1332.1 449.8L1333.3 449.7L1334.4 449.9L1335.2 449.7L1335.9 450.0L1336.9 450.0L1338.6 449.8L1339.2 450.0L1339.5 449.8L1340.4 449.6L1341.3 449.9L1342.5 449.9L1343.7 449.7L1344.1 449.9L1345.4 450.0L1346.5 450.3L1346.6 450.2L1347.0 450.4L1348.4 450.4L1349.9 450.8L1350.1 450.7L1351.4 450.9L1352.2 450.7L1352.7 450.7L1353.0 450.4L1353.8 450.2L1355.2 450.3L1355.5 450.0L1356.4 449.9L1357.3 449.5L1358.3 449.7L1359.1 450.1L1361.2 450.1L1361.8 450.4L1362.8 450.5L1363.3 450.9L1363.9 450.8L1365.5 451.1L1367.0 450.9L1367.8 450.3L1368.2 450.4L1369.4 450.1L1370.2 450.4L1370.9 450.1L1371.4 450.4L1372.7 449.9L1373.4 450.2L1373.8 450.6L1375.1 450.6L1375.6 450.3L1376.1 450.4L1376.3 450.2L1377.0 450.5L1377.6 450.2L1378.7 450.8L1380.9 450.3L1382.1 450.5L1382.5 450.7L1383.1 450.4L1383.4 450.5L1384.1 450.2L1384.9 450.4L1386.0 450.1L1386.7 450.4L1388.4 450.1L1389.4 450.2L1389.7 450.5L1390.9 450.1L1392.0 450.6L1392.6 450.3L1393.2 450.5L1393.9 450.4L1394.4 450.5L1395.8 450.2L1397.2 450.6L1397.6 450.5L1398.4 450.7L1399.2 450.5L1399.6 450.8L1400.5 450.8L1401.9 451.3L1404.5 450.6L1405.1 450.7L1405.4 450.4L1406.0 450.5L1406.9 450.2L1407.2 450.2L1407.6 450.5L1409.1 450.4L1409.4 450.6L1410.6 450.8L1411.0 450.6L1411.4 450.8L1412.1 450.6L1413.2 451.0L1413.8 450.6L1415.1 450.9L1416.0 450.7L1418.8 451.4L1419.2 451.2L1420.4 451.3L1420.6 451.2L1423.3 451.5L1423.4 451.3L1423.9 451.4L1424.9 450.9L1425.0 451.0L1426.4 450.7L1427.2 451.0L1427.6 450.8L1428.0 451.0L1428.3 450.8L1429.9 450.7L1432.8 451.3L1433.2 451.0L1434.4 451.2L1435.2 450.9L1435.8 451.1L1437.0 451.1L1437.2 450.9L1437.7 450.9L1438.1 450.6L1438.3 450.8L1438.8 450.5L1439.2 450.7L1440.8 450.5L1441.4 450.7L1441.8 450.5L1442.6 450.7L1442.9 450.4L1443.6 450.8L1444.1 450.9L1444.3 450.7L1444.5 450.9L1445.3 450.7L1445.7 450.8L1446.1 450.6L1447.2 450.8L1448.6 450.6L1448.9 450.9L1449.6 450.5L1451.1 450.9L1454.0 450.9L1455.1 450.7L1455.8 451.1L1457.1 450.8L1458.7 450.9L1459.3 450.7L1460.7 450.8L1461.5 450.7L1463.6 451.1L1465.0 451.5L1465.7 451.4L1466.0 451.6L1467.8 451.3L1469.8 451.1L1470.6 450.8L1471.0 450.9"/>
<path stroke="#1ee61e" d="M830.0 433.6L830.2 433.7L831.2 432.8L832.0 432.5L832.8 432.5L833.1 432.3L833.7 432.4L834.3 432.2L834.8 432.4L835.9 432.3L838.0 433.0L838.9 433.1L840.3 432.6L841.4 432.8L842.5 432.3L843.0 432.6L845.2 431.9L846.0 432.2L847.2 432.0L848.8 432.5L849.2 432.3L851.1 433.0L852.0 432.7L852.8 432.8L854.3 432.4L854.8 432.0L856.3 432.1L856.8 431.7L858.4 431.4L859.5 431.5L859.7 431.7L861.5 431.6L862.5 432.1L863.4 432.1L864.6 432.6L866.0 432.3L868.7 432.5L870.6 432.1L871.1 432.4L871.6 432.0L872.0 432.2L872.9 432.2L873.4 432.5L874.5 431.9L875.7 432.2L876.0 431.9L877.1 431.8L878.0 432.0L878.7 431.9L880.3 432.2L881.5 431.9L882.0 432.1L882.7 431.9L882.9 432.1L883.3 431.9L883.9 432.0L885.3 431.6L887.8 432.1L888.4 432.0L888.6 432.2L889.4 431.9L889.8 432.1L890.3 431.9L890.9 432.2L891.4 431.8L892.9 431.6L893.7 431.2L895.6 431.2L896.0 431.0L896.8 430.9L897.4 431.3L898.9 431.2L900.4 431.9L900.5 431.7L901.1 431.8L901.6 431.6L902.0 431.9L902.2 431.8L902.7 431.9L903.1 431.6L903.6 431.6L904.1 431.9L904.3 431.7L905.7 431.7L906.2 431.4L907.0 431.3L907.4 431.6L907.9 431.3L908.1 431.5L909.1 431.5L909.9 431.3L910.0 431.4L910.9 431.4L911.9 431.2L913.0 431.7L913.4 431.4L915.2 431.8L915.6 431.6L916.8 431.7L917.4 431.5L918.2 431.9L918.9 431.6L919.4 431.7L921.1 431.6L921.8 432.1L922.0 431.9L923.8 431.9L924.2 431.7L924.9 432.0L925.6 431.8L925.9 432.0L927.1 431.7L927.8 431.2L929.1 431.4L929.6 431.3L929.9 431.4L931.6 431.0L931.9 430.7L934.0 431.3L935.1 431.0L935.2 431.1L935.9 431.0L936.6 431.3L937.1 431.1L937.9 431.7L938.5 431.4L938.7 431.5L939.7 431.3L940.7 431.7L941.2 431.4L943.0 431.4L943.2 431.1L944.0 431.0L946.0 431.2L946.7 431.0L947.2 431.1L947.7 431.0L950.9 431.5L951.8 431.4L952.7 431.5L952.8 431.2L955.2 431.3L956.3 431.1L956.6 431.2L958.5 430.8L958.8 431.0L961.1 430.8L961.5 431.0L962.6 430.7L962.7 430.9L964.5 430.8L964.8 430.5L966.4 430.9L967.4 430.6L968.2 430.7L968.7 430.5L969.5 430.6L970.0 430.4L971.3 430.5L972.8 430.2L973.3 430.3L973.6 430.2L975.2 430.2L975.9 430.5L976.3 430.3L977.4 430.6L980.1 430.2L980.8 430.4L981.8 430.2L982.7 430.4L983.0 430.1L984.0 429.9L984.7 430.3L985.6 430.3L986.5 430.0L988.4 430.1L988.8 429.9L990.2 430.3L990.8 429.9L993.5 429.6L994.1 429.3L994.8 429.4L995.0 429.2L995.2 429.3L996.3 428.9L997.0 429.0L997.2 429.2L997.7 429.1L998.7 429.2L1000.2 429.2L1001.0 429.4L1003.0 429.4L1004.1 429.0L1005.5 428.9L1006.9 428.4L1008.7 428.2L1009.2 428.0L1011.1 427.9L1012.3 428.2L1014.6 427.7L1017.5 427.6L1018.2 427.3L1020.3 427.2L1020.7 426.9L1022.1 427.0L1023.5 426.4L1024.2 426.5L1026.3 425.8L1026.7 426.0L1029.1 425.5L1031.6 425.5L1033.6 424.8L1034.9 424.8L1037.5 424.2L1039.6 424.2L1039.9 423.9L1041.6 423.9L1043.3 423.4L1044.8 423.2L1045.4 422.9L1046.0 422.9L1050.8 421.6L1051.4 421.7L1053.1 421.3L1053.7 421.3L1056.8 420.5L1062.2 418.6L1067.9 417.3L1073.6 414.8L1076.9 413.1L1082.2 409.7L1084.9 407.7L1087.8 405.0L1089.8 403.0L1093.9 398.1L1097.5 393.2L1100.2 389.1L1104.8 380.9L1109.9 370.1L1115.4 356.1L1120.4 341.2L1125.3 324.8L1129.9 307.3L1133.7 291.1L1136.7 276.9L1139.7 261.2L1142.5 244.5L1145.2 226.2L1147.8 205.9L1154.6 143.6L1156.5 127.9L1157.6 120.6L1158.6 115.7L1159.6 112.7L1160.6 111.3L1161.3 112.3L1161.9 113.7L1163.0 118.4L1164.2 126.2L1165.5 137.4L1167.9 163.7L1174.1 242.3L1177.5 281.6L1181.2 317.4L1183.1 332.9L1185.1 347.1L1187.3 360.3L1189.4 370.9L1191.7 380.5L1194.1 388.5L1196.8 395.6L1199.7 401.5L1202.5 405.8L1206.1 410.0L1209.8 413.1L1213.7 415.8L1216.9 417.4L1219.7 418.4L1221.7 419.4L1222.8 419.7L1225.5 420.9L1226.0 420.9L1228.8 421.7L1230.9 421.8L1232.0 422.3L1233.4 422.5L1234.0 422.7L1234.8 422.7L1236.9 423.5L1238.2 423.5L1244.4 425.2L1249.7 425.2L1254.6 426.0L1255.0 425.8L1255.8 425.9L1257.0 425.6L1258.4 425.7L1258.9 425.6L1260.5 425.8L1261.0 426.1L1261.7 425.9L1263.8 426.8L1264.3 426.7L1264.9 427.0L1266.3 427.1L1266.8 427.0L1267.7 427.6L1270.6 427.7L1271.8 427.5L1273.0 427.7L1273.7 427.3L1274.4 427.6L1275.9 427.4L1276.4 427.4L1277.7 428.0L1278.9 427.9L1279.3 428.1L1280.7 427.7L1282.1 427.8L1283.1 427.5L1283.4 427.6L1283.6 427.4L1284.7 427.6L1285.2 427.4L1286.6 427.6L1287.4 428.0L1287.8 427.9L1288.5 428.2L1288.9 428.1L1289.8 428.3L1290.0 428.6L1290.5 428.5L1291.4 428.9L1292.3 428.8L1293.4 428.3L1293.7 428.4L1295.6 428.0L1296.6 428.3L1298.4 428.2L1298.8 428.4L1299.4 428.4L1299.9 428.6L1300.3 428.4L1300.7 428.7L1301.6 428.6L1301.9 428.4L1303.7 428.5L1304.1 428.3L1304.6 428.7L1305.4 428.8L1305.8 428.6L1306.3 428.9L1307.0 428.6L1307.9 429.0L1308.8 428.7L1310.2 428.9L1311.0 428.3L1311.7 428.4L1312.2 428.0L1313.0 428.2L1313.5 428.0L1313.7 428.2L1314.2 428.1L1314.7 428.3L1315.4 428.4L1315.8 428.3L1316.8 428.6L1317.7 428.5L1318.3 428.8L1319.0 428.7L1319.2 428.9L1319.8 428.6L1322.6 428.2L1323.6 428.4L1324.0 428.7L1324.6 428.4L1326.4 428.7L1328.6 429.4L1329.8 429.1L1330.6 429.3L1331.3 429.1L1331.7 429.2L1332.1 429.0L1332.4 429.1L1334.6 428.6L1335.2 428.6L1335.5 428.7L1336.0 428.5L1337.4 428.7L1337.7 428.6L1340.3 428.6L1341.0 429.0L1341.4 428.8L1342.1 429.1L1342.5 429.0L1343.1 429.3L1343.5 429.2L1343.7 429.4L1344.8 429.5L1345.0 429.7L1345.8 429.5L1346.7 429.6L1347.0 429.3L1347.7 429.6L1348.1 429.5L1348.5 429.8L1349.8 429.4L1350.2 429.6L1351.6 429.5L1351.8 429.8L1352.6 429.9L1354.5 429.7L1354.6 429.8L1355.1 429.5L1355.8 429.7L1356.2 429.4L1357.5 429.6L1358.1 429.2L1359.6 429.5L1360.7 428.9L1360.9 429.1L1362.4 429.3L1363.1 429.0L1363.8 429.1L1364.3 429.4L1364.6 429.1L1365.6 429.1L1366.4 429.6L1367.6 429.7L1368.4 429.5L1369.8 429.8L1370.3 429.5L1370.8 429.8L1371.4 429.7L1371.9 429.8L1372.5 429.5L1374.1 429.7L1374.7 429.4L1376.5 429.2L1377.1 429.5L1377.7 429.3L1378.6 429.5L1380.1 429.2L1380.6 429.5L1381.1 429.4L1382.1 430.1L1383.5 429.8L1384.8 430.1L1385.1 429.9L1385.4 430.1L1386.2 429.8L1386.3 430.0L1386.7 429.8L1387.2 429.8L1387.9 429.3L1388.9 429.3L1389.4 429.5L1391.5 428.7L1392.0 428.9L1393.6 428.9L1393.9 429.1L1395.0 428.8L1396.0 428.8L1396.7 429.1L1396.9 429.3L1398.5 429.4L1400.7 430.2L1402.6 430.4L1403.2 430.2L1404.2 430.3L1404.4 430.2L1404.8 430.4L1405.6 430.1L1406.4 430.3L1407.1 430.0L1407.9 430.2L1408.5 429.8L1409.7 429.8L1410.0 430.0L1410.4 429.8L1410.7 429.4L1411.4 429.5L1412.0 429.0L1412.3 429.0L1413.0 429.3L1413.6 429.0L1414.2 428.9L1414.8 429.2L1415.7 429.2L1416.3 429.0L1416.7 429.2L1417.3 429.2L1418.1 429.5L1418.9 429.3L1419.5 429.7L1420.1 429.6L1420.2 429.8L1420.5 429.6L1421.2 429.7L1421.8 429.5L1422.4 429.9L1423.0 429.8L1423.3 430.0L1424.1 429.6L1424.7 429.8L1425.5 429.5L1426.5 429.7L1427.2 429.5L1427.5 429.7L1428.4 429.3L1429.0 429.4L1429.7 429.2L1430.8 429.5L1431.2 429.9L1432.7 429.5L1433.2 429.8L1433.5 429.8L1433.6 429.9L1434.1 429.9L1434.4 430.1L1436.1 430.3L1437.3 429.8L1437.8 430.0L1438.6 430.1L1439.6 429.9L1440.0 430.1L1440.7 429.9L1441.3 430.0L1442.1 429.9L1443.4 430.0L1443.8 429.9L1444.5 430.2L1446.5 429.7L1446.7 429.9L1447.3 429.7L1447.7 430.0L1448.4 429.8L1448.8 430.0L1449.7 429.7L1449.8 429.8L1450.1 429.6L1450.4 429.7L1451.1 429.5L1452.5 430.0L1452.7 429.7L1454.2 429.7L1454.8 429.3L1455.2 429.5L1455.8 429.4L1456.0 429.7L1456.5 429.5L1457.1 429.6L1458.5 429.4L1459.4 429.8L1459.8 429.7L1460.0 429.9L1460.5 429.9L1460.8 430.2L1462.0 430.0L1462.5 430.3L1464.3 430.3L1464.8 430.5L1465.3 430.3L1465.7 430.5L1467.1 430.3L1467.8 430.7L1468.8 430.3L1471.0 430.1"/>
<path stroke="#f7801a" d="M830.0 411.6L831.1 411.1L832.6 411.5L833.4 411.2L834.6 411.5L835.6 411.2L835.9 411.5L836.6 411.5L836.8 411.7L837.7 411.2L838.2 411.5L838.6 411.3L839.1 411.6L839.5 411.5L840.0 411.6L840.3 411.3L841.0 411.1L842.2 411.5L843.2 411.1L843.7 411.3L844.1 410.9L844.9 410.6L845.0 410.7L845.1 410.5L845.9 410.5L846.9 411.0L847.7 410.8L848.3 410.9L848.5 410.8L849.3 411.1L849.7 410.9L850.5 411.2L851.0 411.1L851.4 411.4L852.1 411.2L852.7 411.5L852.9 411.4L853.1 411.5L854.1 411.3L854.8 411.9L855.1 412.0L855.5 411.8L855.8 412.0L856.0 411.8L856.8 411.9L857.0 412.1L857.4 411.8L858.9 411.7L859.1 411.5L859.9 411.6L860.0 411.8L860.9 411.2L861.4 411.4L861.7 411.3L862.2 411.6L863.4 411.0L864.0 411.1L864.8 410.9L865.1 411.2L866.0 410.7L866.8 410.8L868.0 410.4L869.0 410.6L869.4 410.9L870.3 410.7L870.6 410.9L871.1 410.8L872.0 411.4L872.7 411.1L873.3 411.3L873.5 411.1L874.0 411.3L874.5 411.1L874.8 411.2L875.1 410.9L875.4 411.0L876.3 410.9L876.5 410.6L877.0 410.8L878.2 410.2L878.5 410.3L878.9 410.0L879.3 410.3L880.3 410.4L881.1 410.8L881.4 410.6L882.1 410.9L882.3 410.7L882.5 410.9L883.0 410.7L884.9 411.3L885.3 411.1L885.9 411.1L888.1 410.5L888.8 410.9L889.4 410.7L890.3 410.8L890.6 410.7L891.0 410.9L891.5 410.6L892.2 410.7L892.5 410.6L893.5 410.9L894.5 410.9L896.3 410.5L897.5 410.8L899.5 410.3L900.0 410.6L900.8 410.2L901.0 410.4L901.8 410.2L902.4 410.3L903.2 410.1L904.8 410.3L905.0 410.1L906.5 410.7L907.7 410.2L907.8 410.4L908.3 410.4L909.4 410.1L910.1 410.4L910.8 410.3L911.1 410.5L911.4 410.3L911.7 410.4L912.3 409.9L914.1 410.3L915.2 409.9L915.4 410.1L915.8 409.9L916.4 410.0L916.8 409.7L917.1 409.6L917.3 409.7L917.7 409.5L918.3 409.8L918.9 409.6L921.2 410.2L921.8 410.1L922.3 409.7L923.1 410.0L924.2 409.7L924.8 409.9L926.0 409.9L926.8 409.5L927.4 409.9L928.0 409.8L928.5 410.1L929.1 410.1L930.1 410.7L930.3 410.5L931.1 410.6L931.7 410.8L932.2 410.6L932.5 410.8L933.6 410.5L934.0 410.7L934.4 410.4L935.1 410.4L935.9 409.8L936.8 410.1L937.3 409.7L937.9 409.7L938.3 409.9L939.5 409.8L940.1 410.1L941.1 410.1L941.8 410.4L942.8 410.1L943.3 410.3L943.6 410.2L944.0 410.3L944.8 410.0L944.9 410.2L946.1 409.8L946.5 410.0L947.0 409.8L947.4 409.9L947.9 409.5L948.5 409.7L949.9 409.5L950.7 409.9L951.2 409.7L951.9 409.8L952.5 409.4L953.1 409.7L953.4 409.6L953.9 409.9L954.5 409.6L954.6 409.8L955.3 409.9L957.9 409.8L958.5 410.1L959.1 409.9L960.5 410.1L961.0 409.9L961.2 410.0L962.5 410.0L963.1 410.4L963.6 410.1L965.1 410.2L965.5 409.8L966.2 410.0L967.3 409.4L968.4 409.5L969.8 409.2L970.6 409.3L971.1 409.1L971.7 409.4L971.8 409.2L972.4 409.3L972.8 409.1L973.3 409.3L974.1 409.2L974.3 408.9L974.9 409.1L975.3 408.8L975.8 408.9L976.5 408.7L977.1 409.0L977.9 408.4L978.6 408.3L978.8 408.6L979.3 408.5L980.6 408.9L980.9 408.8L981.5 408.9L982.1 408.6L983.4 408.6L984.4 409.2L985.0 408.9L985.9 408.9L986.6 408.5L986.7 408.6L987.4 408.4L987.9 408.6L988.9 408.6L990.4 408.1L991.3 408.2L992.5 407.9L993.4 408.2L994.3 408.0L997.3 408.0L998.1 407.8L998.4 407.9L999.5 407.5L999.9 407.5L1001.0 407.0L1001.6 407.1L1003.4 406.5L1003.8 406.6L1004.4 406.4L1005.0 406.6L1005.8 406.5L1006.3 406.3L1007.1 406.6L1008.5 406.2L1010.1 406.7L1012.6 406.8L1013.9 406.6L1014.5 406.8L1014.8 406.5L1016.5 406.1L1017.9 405.4L1023.8 404.9L1025.2 404.4L1026.5 404.3L1028.0 403.8L1031.3 403.7L1032.0 403.2L1032.5 403.1L1033.4 403.3L1034.3 403.0L1036.1 402.9L1037.7 402.6L1038.0 402.7L1040.3 402.0L1041.2 401.4L1042.7 401.2L1044.4 400.6L1044.8 400.7L1049.7 399.8L1050.4 399.9L1051.4 399.5L1051.8 399.5L1053.7 398.9L1055.6 398.6L1056.2 398.2L1058.2 397.9L1059.0 397.5L1059.7 397.5L1060.9 396.8L1061.9 396.7L1064.2 395.7L1068.5 394.7L1076.3 391.1L1078.1 390.5L1082.8 388.0L1086.7 385.4L1090.0 382.9L1094.0 379.3L1097.4 375.5L1102.3 368.8L1106.0 362.4L1109.9 354.3L1113.5 345.3L1116.6 336.3L1119.7 325.9L1123.1 313.0L1126.4 298.9L1129.8 282.7L1133.3 264.5L1136.9 244.4L1143.6 203.6L1154.7 130.5L1157.6 113.1L1159.2 105.3L1160.6 100.4L1161.9 97.8L1162.5 97.3L1163.1 97.3L1163.9 98.2L1164.4 99.4L1165.7 104.7L1167.0 112.9L1168.5 125.3L1171.2 153.5L1177.7 232.2L1181.0 268.8L1184.6 302.3L1186.5 317.1L1188.4 330.0L1190.4 341.6L1192.6 352.2L1194.8 360.8L1197.0 367.8L1199.8 374.7L1202.5 379.9L1205.9 384.9L1209.3 388.6L1211.5 390.5L1214.7 392.8L1218.9 395.2L1227.2 399.0L1230.1 399.7L1233.2 400.1L1234.1 400.6L1235.6 400.9L1236.9 401.6L1238.0 401.8L1238.9 402.2L1240.3 402.2L1241.6 402.5L1243.2 402.5L1245.7 403.1L1246.8 403.2L1247.0 403.0L1247.8 403.3L1248.7 403.1L1249.9 403.5L1250.5 403.4L1251.1 403.8L1253.0 404.4L1253.8 404.2L1254.7 404.7L1255.9 404.5L1256.8 404.7L1257.1 404.5L1257.4 404.6L1258.7 404.3L1260.0 404.6L1260.3 404.4L1261.3 404.4L1261.8 404.6L1262.9 404.7L1263.1 404.9L1263.5 404.7L1263.9 404.7L1264.3 404.9L1264.4 404.8L1264.9 404.9L1265.3 404.8L1265.8 405.1L1267.8 405.2L1268.1 405.5L1269.1 405.1L1271.3 405.7L1272.5 405.8L1272.6 405.7L1272.8 405.8L1273.2 405.7L1273.4 405.9L1274.1 405.8L1275.5 406.2L1276.8 406.1L1277.0 406.4L1277.4 406.4L1277.5 406.2L1279.0 406.2L1279.7 405.9L1280.1 406.2L1281.0 406.1L1281.5 405.8L1282.4 405.8L1282.6 405.6L1282.8 405.7L1283.4 405.5L1283.7 405.7L1284.7 405.7L1284.9 405.5L1285.7 405.9L1286.9 405.7L1287.5 405.9L1288.3 405.8L1288.6 406.0L1289.3 405.9L1290.9 406.3L1291.4 406.0L1292.2 406.1L1292.8 405.8L1293.1 406.0L1294.7 406.0L1294.9 405.8L1295.3 406.0L1295.7 405.6L1296.2 405.8L1296.9 405.7L1297.9 406.2L1298.2 406.0L1299.5 406.5L1300.7 406.3L1300.9 406.5L1301.1 406.3L1301.7 406.6L1302.9 406.5L1303.8 406.0L1304.7 406.5L1305.8 406.3L1306.2 406.5L1307.0 406.6L1307.5 406.8L1307.8 406.7L1308.5 406.9L1309.1 406.9L1309.7 407.3L1311.4 406.7L1313.1 407.3L1314.2 406.7L1314.7 406.8L1315.6 406.6L1316.0 406.7L1316.1 406.6L1316.6 406.8L1316.8 406.6L1317.0 406.8L1317.5 406.6L1317.7 406.8L1318.0 406.6L1318.5 406.6L1319.2 406.4L1319.7 406.5L1320.2 407.0L1320.7 406.8L1321.1 407.2L1321.4 407.0L1322.2 407.2L1322.6 406.9L1323.4 407.1L1324.1 406.8L1324.3 406.9L1324.6 406.7L1325.7 406.6L1326.1 406.4L1326.7 406.7L1327.1 406.5L1327.6 406.9L1327.9 406.8L1328.4 407.1L1329.4 407.2L1329.7 407.5L1330.3 407.4L1330.7 407.6L1331.0 407.5L1331.2 407.7L1331.7 407.7L1332.9 408.1L1333.6 407.6L1333.9 407.7L1334.4 407.4L1335.4 407.3L1335.7 407.0L1336.7 407.2L1337.0 407.6L1337.2 407.4L1337.5 407.6L1338.0 407.3L1338.3 407.4L1338.7 407.1L1339.5 407.3L1340.1 407.1L1340.7 407.5L1341.9 407.5L1342.1 407.3L1342.5 407.4L1343.0 407.0L1343.6 406.8L1344.0 407.0L1344.9 406.8L1345.0 407.0L1345.6 406.9L1346.1 407.0L1346.7 406.8L1347.7 406.8L1349.5 407.3L1350.0 407.2L1350.7 407.6L1351.3 407.7L1351.7 407.5L1353.7 408.4L1355.1 408.1L1355.8 408.4L1356.5 408.3L1356.6 408.1L1357.8 408.3L1358.5 407.9L1358.9 408.2L1359.2 408.0L1360.9 408.1L1362.3 407.8L1362.6 407.9L1363.0 407.6L1363.7 407.8L1364.0 407.7L1364.5 408.1L1365.0 407.8L1365.6 408.0L1366.1 407.8L1366.6 408.1L1368.1 408.2L1368.3 408.3L1369.4 408.1L1369.8 407.8L1370.3 408.0L1370.8 407.8L1371.2 408.0L1371.6 407.6L1371.9 407.5L1372.2 407.7L1372.4 407.5L1373.1 407.7L1373.6 407.5L1374.6 407.7L1374.8 407.9L1375.9 408.0L1376.4 408.4L1377.2 408.2L1377.6 408.6L1378.1 408.7L1379.1 408.3L1379.6 408.5L1380.8 407.9L1381.0 408.2L1381.3 408.1L1381.7 408.4L1382.4 408.0L1382.7 407.9L1383.0 408.1L1384.1 407.5L1384.7 407.8L1384.9 407.6L1385.8 408.0L1386.6 408.1L1387.0 407.8L1387.6 407.6L1388.0 407.8L1388.3 407.6L1388.7 407.9L1389.7 408.0L1390.0 408.2L1390.5 408.0L1391.0 408.4L1391.2 408.2L1391.7 408.2L1392.0 408.4L1392.2 408.2L1393.0 408.4L1393.3 408.3L1394.3 408.3L1394.7 408.0L1395.6 408.1L1396.0 407.8L1396.5 408.2L1397.8 407.5L1398.9 407.8L1399.0 407.7L1399.5 407.9L1399.7 407.8L1400.4 408.2L1401.2 408.0L1401.9 408.3L1402.7 408.2L1403.0 408.3L1404.2 408.4L1404.6 408.0L1405.0 408.3L1405.5 408.3L1405.8 408.6L1406.4 408.4L1407.2 408.7L1407.4 408.5L1407.8 408.6L1408.4 408.3L1409.0 408.3L1409.1 408.5L1409.6 408.7L1410.3 408.6L1410.8 409.0L1411.1 408.8L1411.4 408.9L1412.2 408.5L1413.7 408.6L1413.9 408.7L1414.2 408.5L1414.4 408.8L1414.8 408.8L1415.1 408.6L1416.0 408.8L1416.8 408.5L1417.7 408.4L1418.0 408.6L1418.2 408.5L1418.4 408.7L1418.5 408.5L1419.7 408.8L1419.8 408.5L1420.0 408.5L1421.0 408.9L1421.9 408.8L1422.3 409.0L1422.4 408.8L1423.4 408.9L1424.0 408.7L1424.2 408.9L1424.4 408.6L1424.7 408.8L1425.7 408.3L1425.8 408.5L1426.2 408.3L1426.7 408.4L1427.0 408.1L1427.4 408.5L1428.1 408.2L1428.4 408.4L1429.4 407.9L1430.0 408.1L1431.5 408.3L1431.7 408.5L1431.9 408.3L1432.2 408.5L1432.7 408.5L1433.0 408.8L1433.4 408.5L1434.0 408.7L1434.5 408.7L1434.6 408.5L1435.2 409.0L1436.4 408.7L1437.5 408.8L1437.7 408.7L1438.3 408.9L1438.9 408.6L1439.2 408.8L1440.4 408.5L1440.8 408.8L1441.2 408.6L1441.6 408.8L1442.2 408.7L1442.4 408.9L1442.8 408.6L1443.5 408.7L1444.3 408.1L1444.9 408.2L1445.3 408.0L1445.9 408.2L1446.5 408.0L1446.9 408.2L1447.5 408.1L1448.1 408.3L1448.4 408.1L1449.0 408.5L1449.5 408.2L1450.1 408.3L1450.3 408.6L1451.0 408.6L1451.6 409.1L1452.1 409.0L1452.4 409.2L1452.7 408.9L1453.2 409.1L1454.1 408.7L1454.7 409.0L1455.1 408.8L1455.9 409.2L1457.0 409.2L1457.6 408.6L1458.1 408.9L1459.3 408.8L1460.2 409.2L1460.8 408.8L1461.2 408.9L1462.1 408.5L1462.8 408.7L1463.0 408.6L1463.4 408.8L1464.1 408.5L1465.0 408.3L1465.3 408.6L1465.6 408.5L1465.8 408.6L1466.1 408.3L1466.4 408.3L1467.2 408.5L1467.5 408.8L1467.9 408.7L1468.9 409.3L1470.0 409.2L1471.0 409.4"/>
</g>
<g fill="none" stroke="#000" stroke-width="2.4">
<rect x="68.3" y="5.2" width="656.2" height="529.2"/>
<rect x="830.0" y="12.0" width="641.4" height="516.4"/>
</g>
<g stroke="#000" stroke-width="2.2">
<line x1="68.4" y1="534.4" x2="68.4" y2="544.7"/>
<line x1="109.4" y1="534.4" x2="109.4" y2="538.9"/>
<line x1="150.4" y1="534.4" x2="150.4" y2="544.7"/>
<line x1="191.4" y1="534.4" x2="191.4" y2="538.9"/>
<line x1="232.3" y1="534.4" x2="232.3" y2="544.7"/>
<line x1="273.3" y1="534.4" x2="273.3" y2="538.9"/>
<line x1="314.3" y1="534.4" x2="314.3" y2="544.7"/>
<line x1="355.3" y1="534.4" x2="355.3" y2="538.9"/>
<line x1="396.3" y1="534.4" x2="396.3" y2="544.7"/>
<line x1="437.3" y1="534.4" x2="437.3" y2="538.9"/>
<line x1="478.3" y1="534.4" x2="478.3" y2="544.7"/>
<line x1="519.3" y1="534.4" x2="519.3" y2="538.9"/>
<line x1="560.2" y1="534.4" x2="560.2" y2="544.7"/>
<line x1="601.2" y1="534.4" x2="601.2" y2="538.9"/>
<line x1="642.2" y1="534.4" x2="642.2" y2="544.7"/>
<line x1="683.2" y1="534.4" x2="683.2" y2="538.9"/>
<line x1="724.2" y1="534.4" x2="724.2" y2="544.7"/>
<line x1="830.0" y1="528.4" x2="830.0" y2="538.6"/>
<line x1="894.1" y1="528.4" x2="894.1" y2="532.9"/>
<line x1="958.3" y1="528.4" x2="958.3" y2="538.6"/>
<line x1="1022.4" y1="528.4" x2="1022.4" y2="532.9"/>
<line x1="1086.6" y1="528.4" x2="1086.6" y2="538.6"/>
<line x1="1150.7" y1="528.4" x2="1150.7" y2="532.9"/>
<line x1="1214.8" y1="528.4" x2="1214.8" y2="538.6"/>
<line x1="1279.0" y1="528.4" x2="1279.0" y2="532.9"/>
<line x1="1343.1" y1="528.4" x2="1343.1" y2="538.6"/>
<line x1="1407.3" y1="528.4" x2="1407.3" y2="532.9"/>
<line x1="1471.4" y1="528.4" x2="1471.4" y2="538.6"/>
</g>
<g font-family="Liberation Sans, sans-serif" fill="#000">
<text transform="translate(68.4,571.3) scale(0.95,1)" font-size="26.3" text-anchor="middle">10</text>
<text transform="translate(150.4,571.3) scale(0.95,1)" font-size="26.3" text-anchor="middle">20</text>
<text transform="translate(232.3,571.3) scale(0.95,1)" font-size="26.3" text-anchor="middle">30</text>
<text transform="translate(314.3,571.3) scale(0.95,1)" font-size="26.3" text-anchor="middle">40</text>
<text transform="translate(396.3,571.3) scale(0.95,1)" font-size="26.3" text-anchor="middle">50</text>
<text transform="translate(478.3,571.3) scale(0.95,1)" font-size="26.3" text-anchor="middle">60</text>
<text transform="translate(560.2,571.3) scale(0.95,1)" font-size="26.3" text-anchor="middle">70</text>
<text transform="translate(642.2,571.3) scale(0.95,1)" font-size="26.3" text-anchor="middle">80</text>
<text transform="translate(724.2,571.3) scale(0.95,1)" font-size="26.3" text-anchor="middle">90</text>
<text transform="translate(830.0,563.9) scale(0.95,1)" font-size="25.3" text-anchor="middle">17.5</text>
<text transform="translate(958.3,563.9) scale(0.95,1)" font-size="25.3" text-anchor="middle">18.0</text>
<text transform="translate(1086.6,563.9) scale(0.95,1)" font-size="25.3" text-anchor="middle">18.5</text>
<text transform="translate(1214.8,563.9) scale(0.95,1)" font-size="25.3" text-anchor="middle">19.0</text>
<text transform="translate(1343.1,563.9) scale(0.95,1)" font-size="25.3" text-anchor="middle">19.5</text>
<text transform="translate(1471.4,563.9) scale(0.95,1)" font-size="25.3" text-anchor="middle">20.0</text>
<text x="395.5" y="621" font-size="35" text-anchor="middle">Angle (2 Theta)</text>
<text x="1150.5" y="613.5" font-size="34.6" text-anchor="middle">Angle (2 Theta)</text>
<text transform="translate(31,246.4) rotate(-90)" font-size="35" text-anchor="middle">Intensity (a.u.)</text>
<text transform="translate(794.7,247.5) rotate(-90)" font-size="34.3" text-anchor="middle">Intensity (a.u.)</text>
<text transform="translate(76.60,49.60) scale(0.775,1)" font-size="47.4" stroke="#000" stroke-width="0.7">(</text>
<text transform="translate(120.10,49.60) scale(0.775,1)" font-size="47.4" stroke="#000" stroke-width="0.7">)</text>
<text transform="translate(92.70,51.10) scale(0.837,1)" font-size="45.2" stroke="#000" stroke-width="0.7">a</text>
<text transform="translate(842.10,58.80) scale(0.760,1)" font-size="48.3" stroke="#000" stroke-width="0.7">(</text>
<text transform="translate(888.30,58.80) scale(0.760,1)" font-size="48.3" stroke="#000" stroke-width="0.7">)</text>
<text transform="translate(857.95,60.00) scale(0.980,1)" font-size="50.0" stroke="#000" stroke-width="0.7">b</text>
<text transform="translate(150.3,99.2) rotate(-90)" font-size="28" text-anchor="middle">(003)</text>
<text transform="translate(272.0,321.6) rotate(-90)" font-size="28" text-anchor="middle">(101)</text>
<text transform="translate(328.0,311.5) rotate(-90)" font-size="28" text-anchor="middle">(006)/(102)</text>
<text transform="translate(363.5,195.4) rotate(-90)" font-size="28" text-anchor="middle">(104)</text>
<text transform="translate(394.0,368.0) rotate(-90)" font-size="28" text-anchor="middle">(015)</text>
<text transform="translate(476.5,371.1) rotate(-90)" font-size="28" text-anchor="middle">(107)</text>
<text transform="translate(528.3,311.5) rotate(-90)" font-size="28" text-anchor="middle">(018)/(110)</text>
<text transform="translate(564.5,375.0) rotate(-90)" font-size="28" text-anchor="middle">(113)</text>
<text x="1157.3" y="79" font-size="27.2" text-anchor="middle">(003)</text>
<line x1="574.4" y1="23.7" x2="625.5" y2="23.7" stroke="#000000" stroke-width="2.8"/>
<text x="631" y="31.1" font-size="22.6">Pristine</text>
<line x1="1324.4" y1="30.1" x2="1374.8" y2="30.1" stroke="#000000" stroke-width="2.8"/>
<text x="1379.7" y="37.7" font-size="22.4">Pristine</text>
<line x1="574.4" y1="51.4" x2="625.5" y2="51.4" stroke="#f51414" stroke-width="2.8"/>
<text x="631" y="58.8" font-size="22.6">LiP-0.05</text>
<line x1="1324.4" y1="56.9" x2="1374.8" y2="56.9" stroke="#f51414" stroke-width="2.8"/>
<text x="1379.7" y="64.5" font-size="22.4">LiP-0.05</text>
<line x1="574.4" y1="79.1" x2="625.5" y2="79.1" stroke="#1a1ae6" stroke-width="2.8"/>
<text x="631" y="86.5" font-size="22.6">LiP-0.1</text>
<line x1="1324.4" y1="83.7" x2="1374.8" y2="83.7" stroke="#1a1ae6" stroke-width="2.8"/>
<text x="1379.7" y="91.3" font-size="22.4">LiP-0.1</text>
<line x1="574.4" y1="106.8" x2="625.5" y2="106.8" stroke="#1ee61e" stroke-width="2.8"/>
<text x="631" y="114.2" font-size="22.6">LiP-0.25</text>
<line x1="1324.4" y1="110.5" x2="1374.8" y2="110.5" stroke="#1ee61e" stroke-width="2.8"/>
<text x="1379.7" y="118.1" font-size="22.4">LiP-0.25</text>
<line x1="574.4" y1="134.5" x2="625.5" y2="134.5" stroke="#f7801a" stroke-width="2.8"/>
<text x="631" y="141.9" font-size="22.6">LiP-0.5</text>
<line x1="1324.4" y1="137.3" x2="1374.8" y2="137.3" stroke="#f7801a" stroke-width="2.8"/>
<text x="1379.7" y="144.9" font-size="22.4">LiP-0.5</text>
</g>
</svg>
</body></html>
